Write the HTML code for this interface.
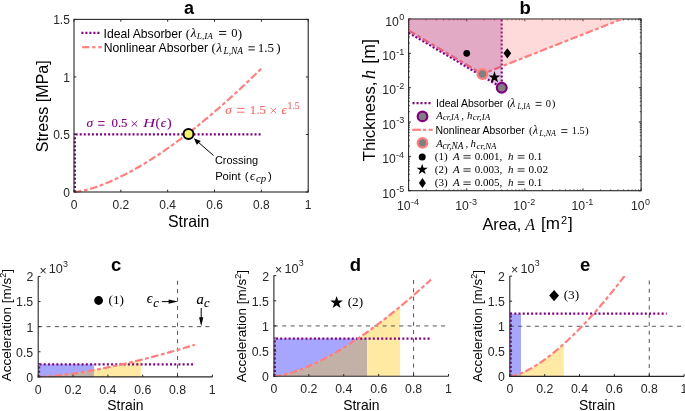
<!DOCTYPE html>
<html><head><meta charset="utf-8"><style>
html,body{margin:0;padding:0;background:#fff;}
svg{display:block;filter:blur(0.45px);}
text{white-space:pre;}
</style></head><body>
<svg width="685" height="411" viewBox="0 0 685 411">
<rect width="685" height="411" fill="#fff"/>
<path d="M74.9 192 L74.9 133.47" fill="none" stroke="#800080" stroke-width="2.2" stroke-dasharray="2 2.066"/>
<path d="M75.63 134.47 L260.6 134.47" fill="none" stroke="#800080" stroke-width="2.2" stroke-dasharray="2 2.066"/>
<path d="M74 192 L74.94 191.96 L75.87 191.88 L76.81 191.77 L77.75 191.65 L78.68 191.51 L79.62 191.36 L80.56 191.19 L81.49 191.01 L82.43 190.82 L83.37 190.62 L84.3 190.41 L85.24 190.18 L86.18 189.95 L87.12 189.71 L88.05 189.46 L88.99 189.21 L89.93 188.94 L90.86 188.67 L91.8 188.38 L92.74 188.09 L93.67 187.8 L94.61 187.49 L95.55 187.18 L96.48 186.87 L97.42 186.54 L98.36 186.21 L99.29 185.87 L100.23 185.53 L101.17 185.18 L102.1 184.83 L103.04 184.46 L103.98 184.1 L104.91 183.72 L105.85 183.34 L106.79 182.96 L107.72 182.57 L108.66 182.17 L109.6 181.77 L110.54 181.37 L111.47 180.95 L112.41 180.54 L113.35 180.11 L114.28 179.69 L115.22 179.26 L116.16 178.82 L117.09 178.38 L118.03 177.93 L118.97 177.48 L119.9 177.02 L120.84 176.56 L121.78 176.1 L122.71 175.63 L123.65 175.15 L124.59 174.67 L125.52 174.19 L126.46 173.7 L127.4 173.21 L128.33 172.71 L129.27 172.21 L130.21 171.71 L131.14 171.2 L132.08 170.68 L133.02 170.17 L133.96 169.64 L134.89 169.12 L135.83 168.59 L136.77 168.05 L137.7 167.52 L138.64 166.97 L139.58 166.43 L140.51 165.88 L141.45 165.32 L142.39 164.77 L143.32 164.2 L144.26 163.64 L145.2 163.07 L146.13 162.5 L147.07 161.92 L148.01 161.34 L148.94 160.76 L149.88 160.17 L150.82 159.58 L151.75 158.98 L152.69 158.38 L153.63 157.78 L154.56 157.18 L155.5 156.57 L156.44 155.95 L157.38 155.34 L158.31 154.72 L159.25 154.1 L160.19 153.47 L161.12 152.84 L162.06 152.21 L163 151.57 L163.93 150.93 L164.87 150.29 L165.81 149.64 L166.74 148.99 L167.68 148.34 L168.62 147.68 L169.55 147.02 L170.49 146.36 L171.43 145.69 L172.36 145.02 L173.3 144.35 L174.24 143.67 L175.17 142.99 L176.11 142.31 L177.05 141.62 L177.98 140.94 L178.92 140.24 L179.86 139.55 L180.8 138.85 L181.73 138.15 L182.67 137.45 L183.61 136.74 L184.54 136.03 L185.48 135.32 L186.42 134.6 L187.35 133.88 L188.29 133.16 L189.23 132.44 L190.16 131.71 L191.1 130.98 L192.04 130.24 L192.97 129.51 L193.91 128.77 L194.85 128.02 L195.78 127.28 L196.72 126.53 L197.66 125.78 L198.59 125.03 L199.53 124.27 L200.47 123.51 L201.4 122.75 L202.34 121.98 L203.28 121.21 L204.22 120.44 L205.15 119.67 L206.09 118.89 L207.03 118.11 L207.96 117.33 L208.9 116.55 L209.84 115.76 L210.77 114.97 L211.71 114.18 L212.65 113.38 L213.58 112.58 L214.52 111.78 L215.46 110.98 L216.39 110.17 L217.33 109.36 L218.27 108.55 L219.2 107.74 L220.14 106.92 L221.08 106.1 L222.01 105.28 L222.95 104.46 L223.89 103.63 L224.82 102.8 L225.76 101.97 L226.7 101.13 L227.64 100.29 L228.57 99.45 L229.51 98.61 L230.45 97.77 L231.38 96.92 L232.32 96.07 L233.26 95.22 L234.19 94.36 L235.13 93.5 L236.07 92.64 L237 91.78 L237.94 90.91 L238.88 90.05 L239.81 89.18 L240.75 88.3 L241.69 87.43 L242.62 86.55 L243.56 85.67 L244.5 84.79 L245.43 83.9 L246.37 83.02 L247.31 82.13 L248.24 81.24 L249.18 80.34 L250.12 79.44 L251.06 78.55 L251.99 77.64 L252.93 76.74 L253.87 75.83 L254.8 74.92 L255.74 74.01 L256.68 73.1 L257.61 72.18 L258.55 71.27 L259.49 70.35 L260.42 69.42 L261.36 68.5" fill="none" stroke="#FF7F7F" stroke-width="2.2" stroke-dasharray="7.6 2.5 3.8 2.5" stroke-linecap="butt"/>
<circle cx="188.5" cy="134.1" r="5.0" fill="#F2F26A" stroke="#000" stroke-width="2.0"/>
<line x1="213.5" y1="155.5" x2="197.5" y2="141.5" stroke="#000" stroke-width="1" />
<path d="M193.8 138.3 L200.8 141 L196.8 144.8Z" fill="#000" fill-opacity="1" stroke="none"/>
<text x="214.89" y="164" font-size="10.96" fill="#000" font-family='"Liberation Sans", sans-serif' font-weight="normal" font-style="normal" >Crossing</text>
<text x="215.13" y="180" font-size="11.23" fill="#000" font-family='"Liberation Sans", sans-serif' font-weight="normal" font-style="normal" >Point</text>
<text x="244.84" y="180" font-size="11.5" fill="#000" font-family='"Liberation Sans", sans-serif' font-weight="normal" font-style="normal" >(</text>
<text x="249.88" y="180" font-size="12.5" fill="#000" font-family='"Liberation Serif", serif' font-weight="normal" font-style="italic" >ϵ</text>
<text x="255.92" y="182.3" font-size="10.87" fill="#000" font-family='"Liberation Serif", serif' font-weight="normal" font-style="italic" >cp</text>
<text x="267.88" y="180" font-size="11.5" fill="#000" font-family='"Liberation Sans", sans-serif' font-weight="normal" font-style="normal" >)</text>
<text x="86.55" y="127.1" font-size="13.33" fill="#800080" font-family='"Liberation Serif", serif' font-weight="normal" font-style="italic"  stroke="#800080" stroke-width="0.15" stroke-linejoin="round">σ</text>
<line x1="98.2" y1="121.6" x2="104.6" y2="121.6" stroke="#800080" stroke-width="1" /><line x1="98.2" y1="125.2" x2="104.6" y2="125.2" stroke="#800080" stroke-width="1" />
<text x="111.46" y="127.1" font-size="12.87" fill="#800080" font-family='"Liberation Serif", serif' font-weight="normal" font-style="normal"  stroke="#800080" stroke-width="0.15" stroke-linejoin="round">0.5</text>
<line x1="131.6" y1="121" x2="137.3" y2="126.6" stroke="#800080" stroke-width="0.95" /><line x1="131.6" y1="126.6" x2="137.3" y2="121" stroke="#800080" stroke-width="0.95" />
<text x="142.99" y="127.1" font-size="12.8" fill="#800080" font-family='"Liberation Serif", serif' font-weight="normal" font-style="italic" textLength="12.2" lengthAdjust="spacingAndGlyphs">H</text>
<text x="155.38" y="127.1" font-size="13" fill="#800080" font-family='"Liberation Serif", serif' font-weight="normal" font-style="normal"  stroke="#800080" stroke-width="0.15" stroke-linejoin="round">(</text>
<text x="160.86" y="127.1" font-size="13" fill="#800080" font-family='"Liberation Serif", serif' font-weight="normal" font-style="italic"  stroke="#800080" stroke-width="0.15" stroke-linejoin="round">ϵ</text>
<text x="167.33" y="127.1" font-size="13" fill="#800080" font-family='"Liberation Serif", serif' font-weight="normal" font-style="normal"  stroke="#800080" stroke-width="0.15" stroke-linejoin="round">)</text>
<text x="225.25" y="113.8" font-size="13.3" fill="#F96B6B" font-family='"Liberation Serif", serif' font-weight="normal" font-style="italic"  stroke="#F96B6B" stroke-width="0.15" stroke-linejoin="round">σ</text>
<line x1="237" y1="108.4" x2="244.4" y2="108.4" stroke="#F96B6B" stroke-width="1" /><line x1="237" y1="112.2" x2="244.4" y2="112.2" stroke="#F96B6B" stroke-width="1" />
<text x="249.82" y="113.8" font-size="12.91" fill="#F96B6B" font-family='"Liberation Serif", serif' font-weight="normal" font-style="normal"  stroke="#F96B6B" stroke-width="0.15" stroke-linejoin="round">1.5</text>
<line x1="270.5" y1="107.9" x2="276.3" y2="113.3" stroke="#F96B6B" stroke-width="0.95" /><line x1="270.5" y1="113.3" x2="276.3" y2="107.9" stroke="#F96B6B" stroke-width="0.95" />
<text x="281.56" y="113.8" font-size="13" fill="#F96B6B" font-family='"Liberation Serif", serif' font-weight="normal" font-style="italic"  stroke="#F96B6B" stroke-width="0.15" stroke-linejoin="round">ϵ</text>
<text x="287.49" y="109.1" font-size="9.79" fill="#F96B6B" font-family='"Liberation Serif", serif' font-weight="normal" font-style="normal"  stroke="#F96B6B" stroke-width="0.15" stroke-linejoin="round">1.5</text>
<line x1="81.4" y1="32.8" x2="100.3" y2="32.8" stroke="#800080" stroke-width="2.2" stroke-dasharray="2 2" stroke-linecap="butt"/>
<line x1="82.15" y1="47.2" x2="89.35" y2="47.2" stroke="#FF7F7F" stroke-width="2.2" /><line x1="92.25" y1="47.2" x2="95.45" y2="47.2" stroke="#FF7F7F" stroke-width="2.2" /><line x1="98.25" y1="47.2" x2="101.65" y2="47.2" stroke="#FF7F7F" stroke-width="2.2" />
<text x="103.52" y="37.5" font-size="12.2" fill="#000" font-family='"Liberation Sans", sans-serif' font-weight="normal" font-style="normal" >Ideal Absorber</text>
<text x="185.68" y="37.5" font-size="13" fill="#000" font-family='"Liberation Serif", serif' font-weight="normal" font-style="normal" >(</text>
<text x="190.67" y="37.3" font-size="13" fill="#000" font-family='"Liberation Serif", serif' font-weight="normal" font-style="italic" >λ</text>
<text x="196.86" y="39.4" font-size="9.23" fill="#000" font-family='"Liberation Serif", serif' font-weight="normal" font-style="italic" >L,IA</text>
<line x1="219.1" y1="31.5" x2="226.2" y2="31.5" stroke="#000" stroke-width="0.9" /><line x1="219.1" y1="34.4" x2="226.2" y2="34.4" stroke="#000" stroke-width="0.9" />
<text x="231.27" y="37" font-size="12.6" fill="#000" font-family='"Liberation Serif", serif' font-weight="normal" font-style="normal" >0</text>
<text x="237.73" y="37.5" font-size="13" fill="#000" font-family='"Liberation Serif", serif' font-weight="normal" font-style="normal" >)</text>
<text x="103.65" y="51.7" font-size="12.2" fill="#000" font-family='"Liberation Sans", sans-serif' font-weight="normal" font-style="normal" >Nonlinear Absorber</text>
<text x="211.58" y="51.7" font-size="13" fill="#000" font-family='"Liberation Serif", serif' font-weight="normal" font-style="normal" >(</text>
<text x="216.47" y="51.5" font-size="13" fill="#000" font-family='"Liberation Serif", serif' font-weight="normal" font-style="italic" >λ</text>
<text x="223.46" y="53.9" font-size="9.38" fill="#000" font-family='"Liberation Serif", serif' font-weight="normal" font-style="italic" >L,NA</text>
<line x1="248.4" y1="46.8" x2="254.8" y2="46.8" stroke="#000" stroke-width="0.9" /><line x1="248.4" y1="49.9" x2="254.8" y2="49.9" stroke="#000" stroke-width="0.9" />
<text x="257.71" y="51.6" font-size="13" fill="#000" font-family='"Liberation Serif", serif' font-weight="normal" font-style="normal" >1.5</text>
<text x="276.13" y="51.7" font-size="13" fill="#000" font-family='"Liberation Serif", serif' font-weight="normal" font-style="normal" >)</text>
<rect x="74" y="19.4" width="234.2" height="172.6" fill="none" stroke="#262626" stroke-width="1.1"/>
<line x1="74" y1="192" x2="74" y2="189.7" stroke="#262626" stroke-width="1" />
<line x1="74" y1="19.4" x2="74" y2="21.7" stroke="#262626" stroke-width="1" />
<text x="70.66" y="208.7" font-size="12" fill="#262626" font-family='"Liberation Sans", sans-serif' font-weight="normal" font-style="normal" >0</text>
<line x1="120.84" y1="192" x2="120.84" y2="189.7" stroke="#262626" stroke-width="1" />
<line x1="120.84" y1="19.4" x2="120.84" y2="21.7" stroke="#262626" stroke-width="1" />
<text x="112.57" y="208.7" font-size="12" fill="#262626" font-family='"Liberation Sans", sans-serif' font-weight="normal" font-style="normal" >0.2</text>
<line x1="167.68" y1="192" x2="167.68" y2="189.7" stroke="#262626" stroke-width="1" />
<line x1="167.68" y1="19.4" x2="167.68" y2="21.7" stroke="#262626" stroke-width="1" />
<text x="159.28" y="208.7" font-size="12" fill="#262626" font-family='"Liberation Sans", sans-serif' font-weight="normal" font-style="normal" >0.4</text>
<line x1="214.52" y1="192" x2="214.52" y2="189.7" stroke="#262626" stroke-width="1" />
<line x1="214.52" y1="19.4" x2="214.52" y2="21.7" stroke="#262626" stroke-width="1" />
<text x="206.21" y="208.7" font-size="12" fill="#262626" font-family='"Liberation Sans", sans-serif' font-weight="normal" font-style="normal" >0.6</text>
<line x1="261.36" y1="192" x2="261.36" y2="189.7" stroke="#262626" stroke-width="1" />
<line x1="261.36" y1="19.4" x2="261.36" y2="21.7" stroke="#262626" stroke-width="1" />
<text x="253.05" y="208.7" font-size="12" fill="#262626" font-family='"Liberation Sans", sans-serif' font-weight="normal" font-style="normal" >0.8</text>
<line x1="308.2" y1="192" x2="308.2" y2="189.7" stroke="#262626" stroke-width="1" />
<line x1="308.2" y1="19.4" x2="308.2" y2="21.7" stroke="#262626" stroke-width="1" />
<text x="304.7" y="208.7" font-size="12" fill="#262626" font-family='"Liberation Sans", sans-serif' font-weight="normal" font-style="normal" >1</text>
<line x1="74" y1="192" x2="76.3" y2="192" stroke="#262626" stroke-width="1" />
<line x1="308.2" y1="192" x2="305.9" y2="192" stroke="#262626" stroke-width="1" />
<text x="63.14" y="196.7" font-size="12" fill="#262626" font-family='"Liberation Sans", sans-serif' font-weight="normal" font-style="normal" >0</text>
<line x1="74" y1="134.47" x2="76.3" y2="134.47" stroke="#262626" stroke-width="1" />
<line x1="308.2" y1="134.47" x2="305.9" y2="134.47" stroke="#262626" stroke-width="1" />
<text x="53.17" y="139.17" font-size="12" fill="#262626" font-family='"Liberation Sans", sans-serif' font-weight="normal" font-style="normal" >0.5</text>
<line x1="74" y1="76.93" x2="76.3" y2="76.93" stroke="#262626" stroke-width="1" />
<line x1="308.2" y1="76.93" x2="305.9" y2="76.93" stroke="#262626" stroke-width="1" />
<text x="63.26" y="81.63" font-size="12" fill="#262626" font-family='"Liberation Sans", sans-serif' font-weight="normal" font-style="normal" >1</text>
<line x1="74" y1="19.4" x2="76.3" y2="19.4" stroke="#262626" stroke-width="1" />
<line x1="308.2" y1="19.4" x2="305.9" y2="19.4" stroke="#262626" stroke-width="1" />
<text x="53.17" y="24.1" font-size="12" fill="#262626" font-family='"Liberation Sans", sans-serif' font-weight="normal" font-style="normal" >1.5</text>
<text x="168.03" y="227" font-size="15.87" fill="#000" font-family='"Liberation Sans", sans-serif' font-weight="normal" font-style="normal" >Strain</text>
<g transform="translate(47.7 0) rotate(-90)">
<text x="-152.18" y="0" font-size="16.07" fill="#000" font-family='"Liberation Sans", sans-serif' font-weight="normal" font-style="normal" >Stress [MPa]</text>
</g>
<text x="184.07" y="13.5" font-size="18" fill="#000" font-family='"Liberation Sans", sans-serif' font-weight="bold" font-style="normal" >a</text>
<defs><clipPath id="cb"><rect x="408.6" y="19" width="232.5" height="171.7"/></clipPath></defs>
<g clip-path="url(#cb)">
</g>
<rect x="408.6" y="19" width="232.5" height="171.7" fill="none" stroke="#262626" stroke-width="1.1"/>
<line x1="408.6" y1="190.7" x2="408.6" y2="188.4" stroke="#262626" stroke-width="1" />
<line x1="408.6" y1="19" x2="408.6" y2="21.3" stroke="#262626" stroke-width="1" />
<line x1="426.1" y1="190.7" x2="426.1" y2="189.4" stroke="#262626" stroke-width="0.8" />
<line x1="426.1" y1="19" x2="426.1" y2="20.3" stroke="#262626" stroke-width="0.8" />
<line x1="436.33" y1="190.7" x2="436.33" y2="189.4" stroke="#262626" stroke-width="0.8" />
<line x1="436.33" y1="19" x2="436.33" y2="20.3" stroke="#262626" stroke-width="0.8" />
<line x1="443.59" y1="190.7" x2="443.59" y2="189.4" stroke="#262626" stroke-width="0.8" />
<line x1="443.59" y1="19" x2="443.59" y2="20.3" stroke="#262626" stroke-width="0.8" />
<line x1="449.23" y1="190.7" x2="449.23" y2="189.4" stroke="#262626" stroke-width="0.8" />
<line x1="449.23" y1="19" x2="449.23" y2="20.3" stroke="#262626" stroke-width="0.8" />
<line x1="453.83" y1="190.7" x2="453.83" y2="189.4" stroke="#262626" stroke-width="0.8" />
<line x1="453.83" y1="19" x2="453.83" y2="20.3" stroke="#262626" stroke-width="0.8" />
<line x1="457.72" y1="190.7" x2="457.72" y2="189.4" stroke="#262626" stroke-width="0.8" />
<line x1="457.72" y1="19" x2="457.72" y2="20.3" stroke="#262626" stroke-width="0.8" />
<line x1="461.09" y1="190.7" x2="461.09" y2="189.4" stroke="#262626" stroke-width="0.8" />
<line x1="461.09" y1="19" x2="461.09" y2="20.3" stroke="#262626" stroke-width="0.8" />
<line x1="464.07" y1="190.7" x2="464.07" y2="189.4" stroke="#262626" stroke-width="0.8" />
<line x1="464.07" y1="19" x2="464.07" y2="20.3" stroke="#262626" stroke-width="0.8" />
<text x="397.02" y="210.3" font-size="12.2" fill="#262626" font-family='"Liberation Sans", sans-serif'>10</text><text x="410.91" y="204.7" font-size="9" fill="#262626" font-family='"Liberation Sans", sans-serif'>-4</text>
<line x1="466.73" y1="190.7" x2="466.73" y2="188.4" stroke="#262626" stroke-width="1" />
<line x1="466.73" y1="19" x2="466.73" y2="21.3" stroke="#262626" stroke-width="1" />
<line x1="484.22" y1="190.7" x2="484.22" y2="189.4" stroke="#262626" stroke-width="0.8" />
<line x1="484.22" y1="19" x2="484.22" y2="20.3" stroke="#262626" stroke-width="0.8" />
<line x1="494.46" y1="190.7" x2="494.46" y2="189.4" stroke="#262626" stroke-width="0.8" />
<line x1="494.46" y1="19" x2="494.46" y2="20.3" stroke="#262626" stroke-width="0.8" />
<line x1="501.72" y1="190.7" x2="501.72" y2="189.4" stroke="#262626" stroke-width="0.8" />
<line x1="501.72" y1="19" x2="501.72" y2="20.3" stroke="#262626" stroke-width="0.8" />
<line x1="507.35" y1="190.7" x2="507.35" y2="189.4" stroke="#262626" stroke-width="0.8" />
<line x1="507.35" y1="19" x2="507.35" y2="20.3" stroke="#262626" stroke-width="0.8" />
<line x1="511.96" y1="190.7" x2="511.96" y2="189.4" stroke="#262626" stroke-width="0.8" />
<line x1="511.96" y1="19" x2="511.96" y2="20.3" stroke="#262626" stroke-width="0.8" />
<line x1="515.85" y1="190.7" x2="515.85" y2="189.4" stroke="#262626" stroke-width="0.8" />
<line x1="515.85" y1="19" x2="515.85" y2="20.3" stroke="#262626" stroke-width="0.8" />
<line x1="519.22" y1="190.7" x2="519.22" y2="189.4" stroke="#262626" stroke-width="0.8" />
<line x1="519.22" y1="19" x2="519.22" y2="20.3" stroke="#262626" stroke-width="0.8" />
<line x1="522.19" y1="190.7" x2="522.19" y2="189.4" stroke="#262626" stroke-width="0.8" />
<line x1="522.19" y1="19" x2="522.19" y2="20.3" stroke="#262626" stroke-width="0.8" />
<text x="455.21" y="210.3" font-size="12.2" fill="#262626" font-family='"Liberation Sans", sans-serif'>10</text><text x="469.1" y="204.7" font-size="9" fill="#262626" font-family='"Liberation Sans", sans-serif'>-3</text>
<line x1="524.85" y1="190.7" x2="524.85" y2="188.4" stroke="#262626" stroke-width="1" />
<line x1="524.85" y1="19" x2="524.85" y2="21.3" stroke="#262626" stroke-width="1" />
<line x1="542.35" y1="190.7" x2="542.35" y2="189.4" stroke="#262626" stroke-width="0.8" />
<line x1="542.35" y1="19" x2="542.35" y2="20.3" stroke="#262626" stroke-width="0.8" />
<line x1="552.58" y1="190.7" x2="552.58" y2="189.4" stroke="#262626" stroke-width="0.8" />
<line x1="552.58" y1="19" x2="552.58" y2="20.3" stroke="#262626" stroke-width="0.8" />
<line x1="559.84" y1="190.7" x2="559.84" y2="189.4" stroke="#262626" stroke-width="0.8" />
<line x1="559.84" y1="19" x2="559.84" y2="20.3" stroke="#262626" stroke-width="0.8" />
<line x1="565.48" y1="190.7" x2="565.48" y2="189.4" stroke="#262626" stroke-width="0.8" />
<line x1="565.48" y1="19" x2="565.48" y2="20.3" stroke="#262626" stroke-width="0.8" />
<line x1="570.08" y1="190.7" x2="570.08" y2="189.4" stroke="#262626" stroke-width="0.8" />
<line x1="570.08" y1="19" x2="570.08" y2="20.3" stroke="#262626" stroke-width="0.8" />
<line x1="573.97" y1="190.7" x2="573.97" y2="189.4" stroke="#262626" stroke-width="0.8" />
<line x1="573.97" y1="19" x2="573.97" y2="20.3" stroke="#262626" stroke-width="0.8" />
<line x1="577.34" y1="190.7" x2="577.34" y2="189.4" stroke="#262626" stroke-width="0.8" />
<line x1="577.34" y1="19" x2="577.34" y2="20.3" stroke="#262626" stroke-width="0.8" />
<line x1="580.32" y1="190.7" x2="580.32" y2="189.4" stroke="#262626" stroke-width="0.8" />
<line x1="580.32" y1="19" x2="580.32" y2="20.3" stroke="#262626" stroke-width="0.8" />
<text x="513.36" y="210.3" font-size="12.2" fill="#262626" font-family='"Liberation Sans", sans-serif'>10</text><text x="527.26" y="204.7" font-size="9" fill="#262626" font-family='"Liberation Sans", sans-serif'>-2</text>
<line x1="582.98" y1="190.7" x2="582.98" y2="188.4" stroke="#262626" stroke-width="1" />
<line x1="582.98" y1="19" x2="582.98" y2="21.3" stroke="#262626" stroke-width="1" />
<line x1="600.47" y1="190.7" x2="600.47" y2="189.4" stroke="#262626" stroke-width="0.8" />
<line x1="600.47" y1="19" x2="600.47" y2="20.3" stroke="#262626" stroke-width="0.8" />
<line x1="610.71" y1="190.7" x2="610.71" y2="189.4" stroke="#262626" stroke-width="0.8" />
<line x1="610.71" y1="19" x2="610.71" y2="20.3" stroke="#262626" stroke-width="0.8" />
<line x1="617.97" y1="190.7" x2="617.97" y2="189.4" stroke="#262626" stroke-width="0.8" />
<line x1="617.97" y1="19" x2="617.97" y2="20.3" stroke="#262626" stroke-width="0.8" />
<line x1="623.6" y1="190.7" x2="623.6" y2="189.4" stroke="#262626" stroke-width="0.8" />
<line x1="623.6" y1="19" x2="623.6" y2="20.3" stroke="#262626" stroke-width="0.8" />
<line x1="628.21" y1="190.7" x2="628.21" y2="189.4" stroke="#262626" stroke-width="0.8" />
<line x1="628.21" y1="19" x2="628.21" y2="20.3" stroke="#262626" stroke-width="0.8" />
<line x1="632.1" y1="190.7" x2="632.1" y2="189.4" stroke="#262626" stroke-width="0.8" />
<line x1="632.1" y1="19" x2="632.1" y2="20.3" stroke="#262626" stroke-width="0.8" />
<line x1="635.47" y1="190.7" x2="635.47" y2="189.4" stroke="#262626" stroke-width="0.8" />
<line x1="635.47" y1="19" x2="635.47" y2="20.3" stroke="#262626" stroke-width="0.8" />
<line x1="638.44" y1="190.7" x2="638.44" y2="189.4" stroke="#262626" stroke-width="0.8" />
<line x1="638.44" y1="19" x2="638.44" y2="20.3" stroke="#262626" stroke-width="0.8" />
<text x="571.48" y="210.3" font-size="12.2" fill="#262626" font-family='"Liberation Sans", sans-serif'>10</text><text x="585.38" y="204.7" font-size="9" fill="#262626" font-family='"Liberation Sans", sans-serif'>-1</text>
<line x1="641.1" y1="190.7" x2="641.1" y2="188.4" stroke="#262626" stroke-width="1" />
<line x1="641.1" y1="19" x2="641.1" y2="21.3" stroke="#262626" stroke-width="1" />
<text x="631.04" y="210.3" font-size="12.2" fill="#262626" font-family='"Liberation Sans", sans-serif'>10</text><text x="644.98" y="204.7" font-size="9" fill="#262626" font-family='"Liberation Sans", sans-serif'>0</text>
<line x1="408.6" y1="190.7" x2="410.9" y2="190.7" stroke="#262626" stroke-width="1" />
<line x1="641.1" y1="190.7" x2="638.8" y2="190.7" stroke="#262626" stroke-width="1" />
<line x1="408.6" y1="180.36" x2="409.9" y2="180.36" stroke="#262626" stroke-width="0.8" />
<line x1="641.1" y1="180.36" x2="639.8" y2="180.36" stroke="#262626" stroke-width="0.8" />
<line x1="408.6" y1="174.32" x2="409.9" y2="174.32" stroke="#262626" stroke-width="0.8" />
<line x1="641.1" y1="174.32" x2="639.8" y2="174.32" stroke="#262626" stroke-width="0.8" />
<line x1="408.6" y1="170.03" x2="409.9" y2="170.03" stroke="#262626" stroke-width="0.8" />
<line x1="641.1" y1="170.03" x2="639.8" y2="170.03" stroke="#262626" stroke-width="0.8" />
<line x1="408.6" y1="166.7" x2="409.9" y2="166.7" stroke="#262626" stroke-width="0.8" />
<line x1="641.1" y1="166.7" x2="639.8" y2="166.7" stroke="#262626" stroke-width="0.8" />
<line x1="408.6" y1="163.98" x2="409.9" y2="163.98" stroke="#262626" stroke-width="0.8" />
<line x1="641.1" y1="163.98" x2="639.8" y2="163.98" stroke="#262626" stroke-width="0.8" />
<line x1="408.6" y1="161.68" x2="409.9" y2="161.68" stroke="#262626" stroke-width="0.8" />
<line x1="641.1" y1="161.68" x2="639.8" y2="161.68" stroke="#262626" stroke-width="0.8" />
<line x1="408.6" y1="159.69" x2="409.9" y2="159.69" stroke="#262626" stroke-width="0.8" />
<line x1="641.1" y1="159.69" x2="639.8" y2="159.69" stroke="#262626" stroke-width="0.8" />
<line x1="408.6" y1="157.93" x2="409.9" y2="157.93" stroke="#262626" stroke-width="0.8" />
<line x1="641.1" y1="157.93" x2="639.8" y2="157.93" stroke="#262626" stroke-width="0.8" />
<text x="382.28" y="197.5" font-size="12.2" fill="#262626" font-family='"Liberation Sans", sans-serif'>10</text><text x="396.18" y="191.9" font-size="9" fill="#262626" font-family='"Liberation Sans", sans-serif'>-5</text>
<line x1="408.6" y1="156.36" x2="410.9" y2="156.36" stroke="#262626" stroke-width="1" />
<line x1="641.1" y1="156.36" x2="638.8" y2="156.36" stroke="#262626" stroke-width="1" />
<line x1="408.6" y1="146.02" x2="409.9" y2="146.02" stroke="#262626" stroke-width="0.8" />
<line x1="641.1" y1="146.02" x2="639.8" y2="146.02" stroke="#262626" stroke-width="0.8" />
<line x1="408.6" y1="139.98" x2="409.9" y2="139.98" stroke="#262626" stroke-width="0.8" />
<line x1="641.1" y1="139.98" x2="639.8" y2="139.98" stroke="#262626" stroke-width="0.8" />
<line x1="408.6" y1="135.69" x2="409.9" y2="135.69" stroke="#262626" stroke-width="0.8" />
<line x1="641.1" y1="135.69" x2="639.8" y2="135.69" stroke="#262626" stroke-width="0.8" />
<line x1="408.6" y1="132.36" x2="409.9" y2="132.36" stroke="#262626" stroke-width="0.8" />
<line x1="641.1" y1="132.36" x2="639.8" y2="132.36" stroke="#262626" stroke-width="0.8" />
<line x1="408.6" y1="129.64" x2="409.9" y2="129.64" stroke="#262626" stroke-width="0.8" />
<line x1="641.1" y1="129.64" x2="639.8" y2="129.64" stroke="#262626" stroke-width="0.8" />
<line x1="408.6" y1="127.34" x2="409.9" y2="127.34" stroke="#262626" stroke-width="0.8" />
<line x1="641.1" y1="127.34" x2="639.8" y2="127.34" stroke="#262626" stroke-width="0.8" />
<line x1="408.6" y1="125.35" x2="409.9" y2="125.35" stroke="#262626" stroke-width="0.8" />
<line x1="641.1" y1="125.35" x2="639.8" y2="125.35" stroke="#262626" stroke-width="0.8" />
<line x1="408.6" y1="123.59" x2="409.9" y2="123.59" stroke="#262626" stroke-width="0.8" />
<line x1="641.1" y1="123.59" x2="639.8" y2="123.59" stroke="#262626" stroke-width="0.8" />
<text x="382.17" y="163.16" font-size="12.2" fill="#262626" font-family='"Liberation Sans", sans-serif'>10</text><text x="396.06" y="157.56" font-size="9" fill="#262626" font-family='"Liberation Sans", sans-serif'>-4</text>
<line x1="408.6" y1="122.02" x2="410.9" y2="122.02" stroke="#262626" stroke-width="1" />
<line x1="641.1" y1="122.02" x2="638.8" y2="122.02" stroke="#262626" stroke-width="1" />
<line x1="408.6" y1="111.68" x2="409.9" y2="111.68" stroke="#262626" stroke-width="0.8" />
<line x1="641.1" y1="111.68" x2="639.8" y2="111.68" stroke="#262626" stroke-width="0.8" />
<line x1="408.6" y1="105.64" x2="409.9" y2="105.64" stroke="#262626" stroke-width="0.8" />
<line x1="641.1" y1="105.64" x2="639.8" y2="105.64" stroke="#262626" stroke-width="0.8" />
<line x1="408.6" y1="101.35" x2="409.9" y2="101.35" stroke="#262626" stroke-width="0.8" />
<line x1="641.1" y1="101.35" x2="639.8" y2="101.35" stroke="#262626" stroke-width="0.8" />
<line x1="408.6" y1="98.02" x2="409.9" y2="98.02" stroke="#262626" stroke-width="0.8" />
<line x1="641.1" y1="98.02" x2="639.8" y2="98.02" stroke="#262626" stroke-width="0.8" />
<line x1="408.6" y1="95.3" x2="409.9" y2="95.3" stroke="#262626" stroke-width="0.8" />
<line x1="641.1" y1="95.3" x2="639.8" y2="95.3" stroke="#262626" stroke-width="0.8" />
<line x1="408.6" y1="93" x2="409.9" y2="93" stroke="#262626" stroke-width="0.8" />
<line x1="641.1" y1="93" x2="639.8" y2="93" stroke="#262626" stroke-width="0.8" />
<line x1="408.6" y1="91.01" x2="409.9" y2="91.01" stroke="#262626" stroke-width="0.8" />
<line x1="641.1" y1="91.01" x2="639.8" y2="91.01" stroke="#262626" stroke-width="0.8" />
<line x1="408.6" y1="89.25" x2="409.9" y2="89.25" stroke="#262626" stroke-width="0.8" />
<line x1="641.1" y1="89.25" x2="639.8" y2="89.25" stroke="#262626" stroke-width="0.8" />
<text x="382.3" y="128.82" font-size="12.2" fill="#262626" font-family='"Liberation Sans", sans-serif'>10</text><text x="396.19" y="123.22" font-size="9" fill="#262626" font-family='"Liberation Sans", sans-serif'>-3</text>
<line x1="408.6" y1="87.68" x2="410.9" y2="87.68" stroke="#262626" stroke-width="1" />
<line x1="641.1" y1="87.68" x2="638.8" y2="87.68" stroke="#262626" stroke-width="1" />
<line x1="408.6" y1="77.34" x2="409.9" y2="77.34" stroke="#262626" stroke-width="0.8" />
<line x1="641.1" y1="77.34" x2="639.8" y2="77.34" stroke="#262626" stroke-width="0.8" />
<line x1="408.6" y1="71.3" x2="409.9" y2="71.3" stroke="#262626" stroke-width="0.8" />
<line x1="641.1" y1="71.3" x2="639.8" y2="71.3" stroke="#262626" stroke-width="0.8" />
<line x1="408.6" y1="67.01" x2="409.9" y2="67.01" stroke="#262626" stroke-width="0.8" />
<line x1="641.1" y1="67.01" x2="639.8" y2="67.01" stroke="#262626" stroke-width="0.8" />
<line x1="408.6" y1="63.68" x2="409.9" y2="63.68" stroke="#262626" stroke-width="0.8" />
<line x1="641.1" y1="63.68" x2="639.8" y2="63.68" stroke="#262626" stroke-width="0.8" />
<line x1="408.6" y1="60.96" x2="409.9" y2="60.96" stroke="#262626" stroke-width="0.8" />
<line x1="641.1" y1="60.96" x2="639.8" y2="60.96" stroke="#262626" stroke-width="0.8" />
<line x1="408.6" y1="58.66" x2="409.9" y2="58.66" stroke="#262626" stroke-width="0.8" />
<line x1="641.1" y1="58.66" x2="639.8" y2="58.66" stroke="#262626" stroke-width="0.8" />
<line x1="408.6" y1="56.67" x2="409.9" y2="56.67" stroke="#262626" stroke-width="0.8" />
<line x1="641.1" y1="56.67" x2="639.8" y2="56.67" stroke="#262626" stroke-width="0.8" />
<line x1="408.6" y1="54.91" x2="409.9" y2="54.91" stroke="#262626" stroke-width="0.8" />
<line x1="641.1" y1="54.91" x2="639.8" y2="54.91" stroke="#262626" stroke-width="0.8" />
<text x="382.36" y="94.48" font-size="12.2" fill="#262626" font-family='"Liberation Sans", sans-serif'>10</text><text x="396.25" y="88.88" font-size="9" fill="#262626" font-family='"Liberation Sans", sans-serif'>-2</text>
<line x1="408.6" y1="53.34" x2="410.9" y2="53.34" stroke="#262626" stroke-width="1" />
<line x1="641.1" y1="53.34" x2="638.8" y2="53.34" stroke="#262626" stroke-width="1" />
<line x1="408.6" y1="43" x2="409.9" y2="43" stroke="#262626" stroke-width="0.8" />
<line x1="641.1" y1="43" x2="639.8" y2="43" stroke="#262626" stroke-width="0.8" />
<line x1="408.6" y1="36.96" x2="409.9" y2="36.96" stroke="#262626" stroke-width="0.8" />
<line x1="641.1" y1="36.96" x2="639.8" y2="36.96" stroke="#262626" stroke-width="0.8" />
<line x1="408.6" y1="32.67" x2="409.9" y2="32.67" stroke="#262626" stroke-width="0.8" />
<line x1="641.1" y1="32.67" x2="639.8" y2="32.67" stroke="#262626" stroke-width="0.8" />
<line x1="408.6" y1="29.34" x2="409.9" y2="29.34" stroke="#262626" stroke-width="0.8" />
<line x1="641.1" y1="29.34" x2="639.8" y2="29.34" stroke="#262626" stroke-width="0.8" />
<line x1="408.6" y1="26.62" x2="409.9" y2="26.62" stroke="#262626" stroke-width="0.8" />
<line x1="641.1" y1="26.62" x2="639.8" y2="26.62" stroke="#262626" stroke-width="0.8" />
<line x1="408.6" y1="24.32" x2="409.9" y2="24.32" stroke="#262626" stroke-width="0.8" />
<line x1="641.1" y1="24.32" x2="639.8" y2="24.32" stroke="#262626" stroke-width="0.8" />
<line x1="408.6" y1="22.33" x2="409.9" y2="22.33" stroke="#262626" stroke-width="0.8" />
<line x1="641.1" y1="22.33" x2="639.8" y2="22.33" stroke="#262626" stroke-width="0.8" />
<line x1="408.6" y1="20.57" x2="409.9" y2="20.57" stroke="#262626" stroke-width="0.8" />
<line x1="641.1" y1="20.57" x2="639.8" y2="20.57" stroke="#262626" stroke-width="0.8" />
<text x="382.34" y="60.14" font-size="12.2" fill="#262626" font-family='"Liberation Sans", sans-serif'>10</text><text x="396.24" y="54.54" font-size="9" fill="#262626" font-family='"Liberation Sans", sans-serif'>-1</text>
<line x1="408.6" y1="19" x2="410.9" y2="19" stroke="#262626" stroke-width="1" />
<line x1="641.1" y1="19" x2="638.8" y2="19" stroke="#262626" stroke-width="1" />
<text x="385.2" y="25.8" font-size="12.2" fill="#262626" font-family='"Liberation Sans", sans-serif'>10</text><text x="399.15" y="20.2" font-size="9" fill="#262626" font-family='"Liberation Sans", sans-serif'>0</text>
<g clip-path="url(#cb)">
<path d="M408.6 32.67 L501.72 87.68" fill="none" stroke="#800080" stroke-width="2.2" stroke-dasharray="2 2" stroke-linecap="butt"/>
<path d="M501.72 19.5 L501.72 87.68" fill="none" stroke="#800080" stroke-width="2.2" stroke-dasharray="2 2" stroke-linecap="butt"/>
<path d="M408.6 30.39 L482.43 74.01 L622.11 19" fill="none" stroke="#FF7F7F" stroke-width="2.2" stroke-dasharray="7.6 2.5 3.8 2.5" stroke-linecap="butt"/>
<path d="M406.6 29.21 L408.6 30.39 L482.43 74.01 L622.11 19 L622.11 17 L406.6 17Z" fill="#FF8080" fill-opacity="0.29" stroke="none"/>
<path d="M406.6 31.48 L408.6 32.67 L501.72 87.68 L501.72 17 L406.6 17Z" fill="#800080" fill-opacity="0.22" stroke="none"/>
</g>
<circle cx="482.43" cy="74.01" r="4.9" fill="#808080" stroke="#FF7F7F" stroke-width="2.2"/>
<circle cx="501.72" cy="87.68" r="4.9" fill="#808080" stroke="#800080" stroke-width="2.2"/>
<circle cx="466.73" cy="53.34" r="3.4" fill="#000"/>
<path d="M494.46 71.04 L495.87 75.4 L500.45 75.4 L496.75 78.09 L498.16 82.44 L494.46 79.75 L490.75 82.44 L492.17 78.09 L488.47 75.4 L493.04 75.4Z" fill="#000" fill-opacity="1" stroke="none"/>
<path d="M507.35 48.14 L511.25 53.34 L507.35 58.54 L503.45 53.34Z" fill="#000" fill-opacity="1" stroke="none"/>
<line x1="412.5" y1="103.2" x2="431.2" y2="103.2" stroke="#800080" stroke-width="2.2" stroke-dasharray="2 2" stroke-linecap="butt"/>
<text x="435.99" y="107" font-size="10.45" fill="#000" font-family='"Liberation Sans", sans-serif' font-weight="normal" font-style="normal" >Ideal Absorber</text>
<text x="507.27" y="107.2" font-size="11" fill="#000" font-family='"Liberation Serif", serif' font-weight="normal" font-style="normal" >(</text>
<text x="510.33" y="107" font-size="11.5" fill="#000" font-family='"Liberation Serif", serif' font-weight="normal" font-style="italic" >λ</text>
<text x="517.44" y="109" font-size="7.31" fill="#000" font-family='"Liberation Serif", serif' font-weight="normal" font-style="italic" >L,IA</text>
<line x1="535.6" y1="102.4" x2="541.5" y2="102.4" stroke="#000" stroke-width="0.8" /><line x1="535.6" y1="105.4" x2="541.5" y2="105.4" stroke="#000" stroke-width="0.8" />
<text x="545.85" y="106.9" font-size="10.5" fill="#000" font-family='"Liberation Serif", serif' font-weight="normal" font-style="normal" >0</text>
<text x="551.8" y="107.2" font-size="11" fill="#000" font-family='"Liberation Serif", serif' font-weight="normal" font-style="normal" >)</text>
<circle cx="422.5" cy="116.4" r="4.8" fill="#808080" stroke="#800080" stroke-width="2.2"/>
<text x="436.23" y="118.6" font-size="10.6" fill="#000" font-family='"Liberation Serif", serif' font-weight="normal" font-style="italic" >A</text>
<text x="442.99" y="120.4" font-size="8.4" fill="#000" font-family='"Liberation Serif", serif' font-weight="normal" font-style="italic" >cr,IA</text>
<text x="461.23" y="118.6" font-size="11" fill="#000" font-family='"Liberation Serif", serif' font-weight="normal" font-style="normal" >,</text>
<text x="466.96" y="118.6" font-size="10.8" fill="#000" font-family='"Liberation Serif", serif' font-weight="normal" font-style="italic" >h</text>
<text x="472.77" y="120.4" font-size="9.15" fill="#000" font-family='"Liberation Serif", serif' font-weight="normal" font-style="italic" >cr,IA</text>
<line x1="412.25" y1="129.8" x2="420.85" y2="129.8" stroke="#FF7F7F" stroke-width="2.2" /><line x1="422.85" y1="129.8" x2="426.05" y2="129.8" stroke="#FF7F7F" stroke-width="2.2" /><line x1="428.75" y1="129.8" x2="432.65" y2="129.8" stroke="#FF7F7F" stroke-width="2.2" />
<text x="435.49" y="134" font-size="10.45" fill="#000" font-family='"Liberation Sans", sans-serif' font-weight="normal" font-style="normal" >Nonlinear Absorber</text>
<text x="529.07" y="134.2" font-size="11" fill="#000" font-family='"Liberation Serif", serif' font-weight="normal" font-style="normal" >(</text>
<text x="533.03" y="134" font-size="11.5" fill="#000" font-family='"Liberation Serif", serif' font-weight="normal" font-style="italic" >λ</text>
<text x="539.34" y="136" font-size="8" fill="#000" font-family='"Liberation Serif", serif' font-weight="normal" font-style="italic" >L,NA</text>
<line x1="561.3" y1="129.6" x2="567.4" y2="129.6" stroke="#000" stroke-width="0.8" /><line x1="561.3" y1="132.5" x2="567.4" y2="132.5" stroke="#000" stroke-width="0.8" />
<text x="571.85" y="133.9" font-size="10.24" fill="#000" font-family='"Liberation Serif", serif' font-weight="normal" font-style="normal" >1.5</text>
<text x="585.1" y="134.2" font-size="11" fill="#000" font-family='"Liberation Serif", serif' font-weight="normal" font-style="normal" >)</text>
<circle cx="422.5" cy="142.9" r="4.8" fill="#808080" stroke="#FF7F7F" stroke-width="2.2"/>
<text x="436.23" y="146.8" font-size="10.6" fill="#000" font-family='"Liberation Serif", serif' font-weight="normal" font-style="italic" >A</text>
<text x="442.56" y="148.6" font-size="9.3" fill="#000" font-family='"Liberation Serif", serif' font-weight="normal" font-style="italic" >cr,NA</text>
<text x="465.53" y="146.8" font-size="11" fill="#000" font-family='"Liberation Serif", serif' font-weight="normal" font-style="normal" >,</text>
<text x="470.46" y="146.8" font-size="10.8" fill="#000" font-family='"Liberation Serif", serif' font-weight="normal" font-style="italic" >h</text>
<text x="476.58" y="148.6" font-size="8.87" fill="#000" font-family='"Liberation Serif", serif' font-weight="normal" font-style="italic" >cr,NA</text>
<circle cx="422.2" cy="157" r="3.5" fill="#000"/>
<path d="M422.2 163.7 L423.52 167.78 L427.81 167.78 L424.34 170.3 L425.67 174.37 L422.2 171.85 L418.73 174.37 L420.06 170.3 L416.59 167.78 L420.88 167.78Z" fill="#000" fill-opacity="1" stroke="none"/>
<path d="M422.4 177.9 L425.9 182.9 L422.4 187.9 L418.9 182.9Z" fill="#000" fill-opacity="1" stroke="none"/>
<text x="434.76" y="160" font-size="11.04" fill="#000" font-family='"Liberation Serif", serif' font-weight="normal" font-style="normal" >(1)</text>
<text x="452.95" y="160" font-size="11" fill="#000" font-family='"Liberation Serif", serif' font-weight="normal" font-style="italic" >A</text>
<line x1="463.4" y1="155.7" x2="470.7" y2="155.7" stroke="#000" stroke-width="0.8" /><line x1="463.4" y1="158.1" x2="470.7" y2="158.1" stroke="#000" stroke-width="0.8" />
<text x="474.73" y="160" font-size="11" fill="#000" font-family='"Liberation Serif", serif' font-weight="normal" font-style="normal" >0.001,</text>
<text x="507.95" y="160" font-size="11" fill="#000" font-family='"Liberation Serif", serif' font-weight="normal" font-style="italic" >h</text>
<line x1="517.7" y1="155.7" x2="524.5" y2="155.7" stroke="#000" stroke-width="0.8" /><line x1="517.7" y1="158.1" x2="524.5" y2="158.1" stroke="#000" stroke-width="0.8" />
<text x="528.42" y="160" font-size="11.2" fill="#000" font-family='"Liberation Serif", serif' font-weight="normal" font-style="normal" >0.1</text>
<text x="434.76" y="173.1" font-size="11.04" fill="#000" font-family='"Liberation Serif", serif' font-weight="normal" font-style="normal" >(2)</text>
<text x="452.95" y="173.1" font-size="11" fill="#000" font-family='"Liberation Serif", serif' font-weight="normal" font-style="italic" >A</text>
<line x1="463.4" y1="168.8" x2="470.7" y2="168.8" stroke="#000" stroke-width="0.8" /><line x1="463.4" y1="171.2" x2="470.7" y2="171.2" stroke="#000" stroke-width="0.8" />
<text x="474.73" y="173.1" font-size="11" fill="#000" font-family='"Liberation Serif", serif' font-weight="normal" font-style="normal" >0.003,</text>
<text x="507.95" y="173.1" font-size="11" fill="#000" font-family='"Liberation Serif", serif' font-weight="normal" font-style="italic" >h</text>
<line x1="517.7" y1="168.8" x2="524.5" y2="168.8" stroke="#000" stroke-width="0.8" /><line x1="517.7" y1="171.2" x2="524.5" y2="171.2" stroke="#000" stroke-width="0.8" />
<text x="528.42" y="173.1" font-size="11.2" fill="#000" font-family='"Liberation Serif", serif' font-weight="normal" font-style="normal" >0.02</text>
<text x="434.76" y="186.3" font-size="11.04" fill="#000" font-family='"Liberation Serif", serif' font-weight="normal" font-style="normal" >(3)</text>
<text x="452.95" y="186.3" font-size="11" fill="#000" font-family='"Liberation Serif", serif' font-weight="normal" font-style="italic" >A</text>
<line x1="463.4" y1="182" x2="470.7" y2="182" stroke="#000" stroke-width="0.8" /><line x1="463.4" y1="184.4" x2="470.7" y2="184.4" stroke="#000" stroke-width="0.8" />
<text x="474.73" y="186.3" font-size="11" fill="#000" font-family='"Liberation Serif", serif' font-weight="normal" font-style="normal" >0.005,</text>
<text x="507.95" y="186.3" font-size="11" fill="#000" font-family='"Liberation Serif", serif' font-weight="normal" font-style="italic" >h</text>
<line x1="517.7" y1="182" x2="524.5" y2="182" stroke="#000" stroke-width="0.8" /><line x1="517.7" y1="184.4" x2="524.5" y2="184.4" stroke="#000" stroke-width="0.8" />
<text x="528.42" y="186.3" font-size="11.2" fill="#000" font-family='"Liberation Serif", serif' font-weight="normal" font-style="normal" >0.1</text>
<text x="482.42" y="229.5" font-size="16.32" fill="#000" font-family='"Liberation Sans", sans-serif' font-weight="normal" font-style="normal" >Area,</text>
<text x="525.23" y="229.5" font-size="16" fill="#000" font-family='"Liberation Serif", serif' font-weight="normal" font-style="italic" >A</text>
<text x="540.94" y="229.3" font-size="17" fill="#000" font-family='"Liberation Sans", sans-serif' font-weight="normal" font-style="normal" >[m</text>
<text x="560.9" y="224.3" font-size="11" fill="#000" font-family='"Liberation Sans", sans-serif' font-weight="normal" font-style="normal" >2</text>
<text x="568.02" y="229.3" font-size="17" fill="#000" font-family='"Liberation Sans", sans-serif' font-weight="normal" font-style="normal" >]</text>
<g transform="translate(375.35 0) rotate(-90)">
<text x="-161.32" y="0" font-size="16.69" fill="#000" font-family='"Liberation Sans", sans-serif' font-weight="normal" font-style="normal" >Thickness,</text>
<text x="-79.13" y="0" font-size="18.7" fill="#000" font-family='"Liberation Serif", serif' font-weight="normal" font-style="italic" >h</text>
<text x="-63.81" y="0" font-size="17.74" fill="#000" font-family='"Liberation Sans", sans-serif' font-weight="normal" font-style="normal" >[m]</text>
</g>
<text x="519.47" y="13.5" font-size="18.5" fill="#000" font-family='"Liberation Sans", sans-serif' font-weight="bold" font-style="normal" >b</text>
<defs><clipPath id="cc"><rect x="38.2" y="276.4" width="175.2" height="100.5"/></clipPath></defs>
<g clip-path="url(#cc)">
<path d="M38.2 376.9 L93.94 376.9 L93.94 364.34 L38.2 364.34Z" fill="#A6A6FF" fill-opacity="1" stroke="none"/>
<path d="M38.2 376.9 L38.2 376.9 L39.06 376.89 L39.91 376.86 L40.77 376.83 L41.62 376.8 L42.48 376.75 L43.33 376.71 L44.19 376.66 L45.04 376.61 L45.9 376.55 L46.76 376.49 L47.61 376.43 L48.47 376.36 L49.32 376.29 L50.18 376.22 L51.03 376.15 L51.89 376.07 L52.74 375.99 L53.6 375.91 L54.46 375.83 L55.31 375.74 L56.17 375.65 L57.02 375.56 L57.88 375.47 L58.73 375.37 L59.59 375.28 L60.44 375.18 L61.3 375.08 L62.16 374.98 L63.01 374.87 L63.87 374.77 L64.72 374.66 L65.58 374.55 L66.43 374.44 L67.29 374.33 L68.14 374.21 L69 374.1 L69.86 373.98 L70.71 373.86 L71.57 373.74 L72.42 373.62 L73.28 373.49 L74.13 373.37 L74.99 373.24 L75.84 373.11 L76.7 372.98 L77.56 372.85 L78.41 372.72 L79.27 372.59 L80.12 372.45 L80.98 372.31 L81.83 372.18 L82.69 372.04 L83.55 371.89 L84.4 371.75 L85.26 371.61 L86.11 371.46 L86.97 371.32 L87.82 371.17 L88.68 371.02 L89.53 370.87 L90.39 370.72 L91.25 370.57 L92.1 370.41 L92.96 370.26 L93.81 370.1 L94.67 369.94 L95.52 369.79 L96.38 369.63 L97.23 369.47 L98.09 369.3 L98.95 369.14 L99.8 368.97 L100.66 368.81 L101.51 368.64 L102.37 368.47 L103.22 368.31 L104.08 368.14 L104.93 367.96 L105.79 367.79 L106.65 367.62 L107.5 367.44 L108.36 367.27 L109.21 367.09 L110.07 366.91 L110.92 366.73 L111.78 366.55 L112.63 366.37 L113.49 366.19 L114.35 366.01 L115.2 365.82 L116.06 365.64 L116.91 365.45 L117.77 365.27 L118.62 365.08 L119.48 364.89 L120.33 364.7 L121.19 364.51 L122.05 364.32 L122.9 364.12 L123.76 363.93 L124.61 363.73 L125.47 363.54 L126.32 363.34 L127.18 363.14 L128.03 362.94 L128.89 362.74 L129.75 362.54 L130.6 362.34 L131.46 362.14 L132.31 361.93 L133.17 361.73 L134.02 361.52 L134.88 361.32 L135.73 361.11 L136.59 360.9 L137.45 360.69 L138.3 360.48 L139.16 360.27 L140.01 360.06 L140.87 359.85 L140.87 376.9Z" fill="#FFE9A3" fill-opacity="1" stroke="none"/>
<path d="M38.2 376.9 L38.2 376.9 L38.66 376.89 L39.13 376.89 L39.59 376.87 L40.06 376.86 L40.52 376.84 L40.99 376.82 L41.45 376.8 L41.92 376.78 L42.38 376.76 L42.85 376.74 L43.31 376.71 L43.77 376.68 L44.24 376.66 L44.7 376.63 L45.17 376.6 L45.63 376.57 L46.1 376.54 L46.56 376.5 L47.03 376.47 L47.49 376.44 L47.96 376.4 L48.42 376.36 L48.88 376.33 L49.35 376.29 L49.81 376.25 L50.28 376.21 L50.74 376.17 L51.21 376.13 L51.67 376.09 L52.14 376.05 L52.6 376 L53.07 375.96 L53.53 375.92 L53.99 375.87 L54.46 375.83 L54.92 375.78 L55.39 375.73 L55.85 375.68 L56.32 375.64 L56.78 375.59 L57.25 375.54 L57.71 375.49 L58.17 375.44 L58.64 375.39 L59.1 375.33 L59.57 375.28 L60.03 375.23 L60.5 375.17 L60.96 375.12 L61.43 375.07 L61.89 375.01 L62.36 374.95 L62.82 374.9 L63.28 374.84 L63.75 374.78 L64.21 374.73 L64.68 374.67 L65.14 374.61 L65.61 374.55 L66.07 374.49 L66.54 374.43 L67 374.37 L67.47 374.3 L67.93 374.24 L68.39 374.18 L68.86 374.12 L69.32 374.05 L69.79 373.99 L70.25 373.93 L70.72 373.86 L71.18 373.8 L71.65 373.73 L72.11 373.66 L72.58 373.6 L73.04 373.53 L73.5 373.46 L73.97 373.39 L74.43 373.32 L74.9 373.26 L75.36 373.19 L75.83 373.12 L76.29 373.05 L76.76 372.98 L77.22 372.9 L77.69 372.83 L78.15 372.76 L78.61 372.69 L79.08 372.62 L79.54 372.54 L80.01 372.47 L80.47 372.39 L80.94 372.32 L81.4 372.25 L81.87 372.17 L82.33 372.09 L82.8 372.02 L83.26 371.94 L83.72 371.87 L84.19 371.79 L84.65 371.71 L85.12 371.63 L85.58 371.55 L86.05 371.47 L86.51 371.4 L86.98 371.32 L87.44 371.24 L87.91 371.16 L88.37 371.08 L88.83 370.99 L89.3 370.91 L89.76 370.83 L90.23 370.75 L90.69 370.67 L91.16 370.58 L91.62 370.5 L92.09 370.42 L92.55 370.33 L93.01 370.25 L93.48 370.16 L93.94 370.08 L93.94 376.9Z" fill="#C3B1A7" fill-opacity="1" stroke="none"/>
<line x1="38.2" y1="326.65" x2="212.4" y2="326.65" stroke="#555" stroke-width="1" stroke-dasharray="4 4.36"/>
<line x1="177.56" y1="276.4" x2="177.56" y2="376.9" stroke="#555" stroke-width="1" stroke-dasharray="4 4.36" stroke-dashoffset="4"/>
<path d="M39.1 376.9 L39.1 363.34" fill="none" stroke="#800080" stroke-width="2.2" stroke-dasharray="2 2.21"/>
<path d="M39.5 364.34 L194.98 364.34" fill="none" stroke="#800080" stroke-width="2.2" stroke-dasharray="2 2.21"/>
<path d="M38.2 376.9 L38.98 376.89 L39.77 376.87 L40.55 376.84 L41.34 376.81 L42.12 376.77 L42.9 376.73 L43.69 376.69 L44.47 376.64 L45.26 376.59 L46.04 376.54 L46.82 376.48 L47.61 376.43 L48.39 376.37 L49.17 376.3 L49.96 376.24 L50.74 376.17 L51.53 376.1 L52.31 376.03 L53.09 375.96 L53.88 375.88 L54.66 375.81 L55.45 375.73 L56.23 375.65 L57.01 375.56 L57.8 375.48 L58.58 375.39 L59.37 375.3 L60.15 375.21 L60.93 375.12 L61.72 375.03 L62.5 374.94 L63.28 374.84 L64.07 374.74 L64.85 374.64 L65.64 374.54 L66.42 374.44 L67.2 374.34 L67.99 374.24 L68.77 374.13 L69.56 374.02 L70.34 373.91 L71.12 373.8 L71.91 373.69 L72.69 373.58 L73.48 373.47 L74.26 373.35 L75.04 373.23 L75.83 373.12 L76.61 373 L77.4 372.88 L78.18 372.76 L78.96 372.63 L79.75 372.51 L80.53 372.39 L81.31 372.26 L82.1 372.13 L82.88 372 L83.67 371.87 L84.45 371.74 L85.23 371.61 L86.02 371.48 L86.8 371.35 L87.59 371.21 L88.37 371.08 L89.15 370.94 L89.94 370.8 L90.72 370.66 L91.51 370.52 L92.29 370.38 L93.07 370.24 L93.86 370.09 L94.64 369.95 L95.42 369.8 L96.21 369.66 L96.99 369.51 L97.78 369.36 L98.56 369.21 L99.34 369.06 L100.13 368.91 L100.91 368.76 L101.7 368.61 L102.48 368.45 L103.26 368.3 L104.05 368.14 L104.83 367.98 L105.62 367.83 L106.4 367.67 L107.18 367.51 L107.97 367.35 L108.75 367.19 L109.53 367.02 L110.32 366.86 L111.1 366.7 L111.89 366.53 L112.67 366.37 L113.45 366.2 L114.24 366.03 L115.02 365.86 L115.81 365.69 L116.59 365.52 L117.37 365.35 L118.16 365.18 L118.94 365.01 L119.73 364.83 L120.51 364.66 L121.29 364.48 L122.08 364.31 L122.86 364.13 L123.65 363.95 L124.43 363.77 L125.21 363.6 L126 363.42 L126.78 363.23 L127.56 363.05 L128.35 362.87 L129.13 362.69 L129.92 362.5 L130.7 362.32 L131.48 362.13 L132.27 361.94 L133.05 361.76 L133.84 361.57 L134.62 361.38 L135.4 361.19 L136.19 361 L136.97 360.81 L137.76 360.62 L138.54 360.42 L139.32 360.23 L140.11 360.04 L140.89 359.84 L141.67 359.65 L142.46 359.45 L143.24 359.25 L144.03 359.05 L144.81 358.86 L145.59 358.66 L146.38 358.46 L147.16 358.26 L147.95 358.05 L148.73 357.85 L149.51 357.65 L150.3 357.45 L151.08 357.24 L151.87 357.04 L152.65 356.83 L153.43 356.62 L154.22 356.42 L155 356.21 L155.78 356 L156.57 355.79 L157.35 355.58 L158.14 355.37 L158.92 355.16 L159.7 354.95 L160.49 354.73 L161.27 354.52 L162.06 354.31 L162.84 354.09 L163.62 353.88 L164.41 353.66 L165.19 353.44 L165.98 353.22 L166.76 353.01 L167.54 352.79 L168.33 352.57 L169.11 352.35 L169.9 352.13 L170.68 351.91 L171.46 351.68 L172.25 351.46 L173.03 351.24 L173.81 351.01 L174.6 350.79 L175.38 350.56 L176.17 350.34 L176.95 350.11 L177.73 349.88 L178.52 349.65 L179.3 349.43 L180.09 349.2 L180.87 348.97 L181.65 348.74 L182.44 348.5 L183.22 348.27 L184.01 348.04 L184.79 347.81 L185.57 347.57 L186.36 347.34 L187.14 347.1 L187.92 346.87 L188.71 346.63 L189.49 346.4 L190.28 346.16 L191.06 345.92 L191.84 345.68 L192.63 345.44 L193.41 345.2 L194.2 344.96 L194.98 344.72" fill="none" stroke="#FF7F7F" stroke-width="2.2" stroke-dasharray="7.6 2.5 3.8 2.5" stroke-linecap="butt"/>
</g>
<line x1="38.2" y1="276.4" x2="38.2" y2="377.4" stroke="#262626" stroke-width="1.1" />
<line x1="37.7" y1="376.9" x2="212.4" y2="376.9" stroke="#262626" stroke-width="1.1" />
<line x1="38.2" y1="376.9" x2="38.2" y2="374.6" stroke="#262626" stroke-width="1" />
<text x="34.78" y="393.7" font-size="12.3" fill="#262626" font-family='"Liberation Sans", sans-serif' font-weight="normal" font-style="normal" >0</text>
<line x1="73.04" y1="376.9" x2="73.04" y2="374.6" stroke="#262626" stroke-width="1" />
<text x="64.56" y="393.7" font-size="12.3" fill="#262626" font-family='"Liberation Sans", sans-serif' font-weight="normal" font-style="normal" >0.2</text>
<line x1="107.88" y1="376.9" x2="107.88" y2="374.6" stroke="#262626" stroke-width="1" />
<text x="99.27" y="393.7" font-size="12.3" fill="#262626" font-family='"Liberation Sans", sans-serif' font-weight="normal" font-style="normal" >0.4</text>
<line x1="142.72" y1="376.9" x2="142.72" y2="374.6" stroke="#262626" stroke-width="1" />
<text x="134.2" y="393.7" font-size="12.3" fill="#262626" font-family='"Liberation Sans", sans-serif' font-weight="normal" font-style="normal" >0.6</text>
<line x1="177.56" y1="376.9" x2="177.56" y2="374.6" stroke="#262626" stroke-width="1" />
<text x="169.04" y="393.7" font-size="12.3" fill="#262626" font-family='"Liberation Sans", sans-serif' font-weight="normal" font-style="normal" >0.8</text>
<line x1="212.4" y1="376.9" x2="212.4" y2="374.6" stroke="#262626" stroke-width="1" />
<text x="208.81" y="393.7" font-size="12.3" fill="#262626" font-family='"Liberation Sans", sans-serif' font-weight="normal" font-style="normal" >1</text>
<line x1="38.2" y1="376.9" x2="40.5" y2="376.9" stroke="#262626" stroke-width="1" />
<text x="26.29" y="381.8" font-size="12.3" fill="#262626" font-family='"Liberation Sans", sans-serif' font-weight="normal" font-style="normal" >0</text>
<line x1="38.2" y1="351.77" x2="40.5" y2="351.77" stroke="#262626" stroke-width="1" />
<text x="16.07" y="356.67" font-size="12.3" fill="#262626" font-family='"Liberation Sans", sans-serif' font-weight="normal" font-style="normal" >0.5</text>
<line x1="38.2" y1="326.65" x2="40.5" y2="326.65" stroke="#262626" stroke-width="1" />
<text x="26.41" y="331.55" font-size="12.3" fill="#262626" font-family='"Liberation Sans", sans-serif' font-weight="normal" font-style="normal" >1</text>
<line x1="38.2" y1="301.52" x2="40.5" y2="301.52" stroke="#262626" stroke-width="1" />
<text x="16.07" y="306.42" font-size="12.3" fill="#262626" font-family='"Liberation Sans", sans-serif' font-weight="normal" font-style="normal" >1.5</text>
<line x1="38.2" y1="276.4" x2="40.5" y2="276.4" stroke="#262626" stroke-width="1" />
<text x="26.43" y="281.3" font-size="12.3" fill="#262626" font-family='"Liberation Sans", sans-serif' font-weight="normal" font-style="normal" >2</text>
<text x="39.39" y="274.7" font-size="12.4" fill="#262626" font-family='"Liberation Sans", sans-serif' font-weight="normal" font-style="normal" >×</text>
<text x="48.78" y="273.3" font-size="12.7" fill="#262626" font-family='"Liberation Sans", sans-serif' font-weight="normal" font-style="normal" >10</text>
<text x="63.11" y="266.7" font-size="8.9" fill="#262626" font-family='"Liberation Sans", sans-serif' font-weight="normal" font-style="normal" >3</text>
<text x="107.28" y="409.8" font-size="13.9" fill="#000" font-family='"Liberation Sans", sans-serif' font-weight="normal" font-style="normal" >Strain</text>
<text x="0" y="0" font-size="13.5" text-anchor="middle" fill="#000" font-family='"Liberation Sans", sans-serif' font-weight="normal" font-style="normal" transform="translate(11.05 325.1) rotate(-90)">Acceleration [m/s<tspan font-size="9" dy="-5">2</tspan><tspan dy="5">]</tspan></text>
<text x="111.12" y="270.6" font-size="18.5" fill="#000" font-family='"Liberation Sans", sans-serif' font-weight="bold" font-style="normal" >c</text>
<circle cx="98.6" cy="300.5" r="4.4" fill="#000"/>
<text x="108.47" y="304" font-size="13.3" fill="#000" font-family='"Liberation Serif", serif' font-weight="normal" font-style="normal" >(1)</text>
<text x="146.73" y="303.4" font-size="14" fill="#000" font-family='"Liberation Serif", serif' font-weight="normal" font-style="italic"  stroke="#000" stroke-width="0.1" stroke-linejoin="round">ϵ</text>
<text x="153.37" y="306.6" font-size="12.5" fill="#000" font-family='"Liberation Serif", serif' font-weight="normal" font-style="italic"  stroke="#000" stroke-width="0.1" stroke-linejoin="round">c</text>
<line x1="161.9" y1="301.6" x2="170" y2="301.6" stroke="#000" stroke-width="1" />
<path d="M178 301.6 L168.6 299.5 L168.6 303.7Z" fill="#000" fill-opacity="1" stroke="none"/>
<text x="196.52" y="303.6" font-size="14.5" fill="#000" font-family='"Liberation Serif", serif' font-weight="normal" font-style="italic"  stroke="#000" stroke-width="0.1" stroke-linejoin="round">a</text>
<text x="204.07" y="306.6" font-size="12.5" fill="#000" font-family='"Liberation Serif", serif' font-weight="normal" font-style="italic"  stroke="#000" stroke-width="0.1" stroke-linejoin="round">c</text>
<line x1="201.2" y1="308" x2="201.2" y2="318" stroke="#000" stroke-width="1" />
<path d="M201.2 326.4 L199.1 317.2 L203.3 317.2Z" fill="#000" fill-opacity="1" stroke="none"/>
<defs><clipPath id="cd"><rect x="273.9" y="275.6" width="175.6" height="100.7"/></clipPath></defs>
<g clip-path="url(#cd)">
<path d="M273.9 376.3 L367.02 376.3 L367.02 338.54 L273.9 338.54Z" fill="#A6A6FF" fill-opacity="1" stroke="none"/>
<path d="M273.9 376.3 L273.9 376.3 L274.95 376.25 L276 376.15 L277.06 376.02 L278.11 375.88 L279.16 375.71 L280.21 375.52 L281.26 375.32 L282.32 375.1 L283.37 374.87 L284.42 374.62 L285.47 374.37 L286.52 374.1 L287.58 373.82 L288.63 373.52 L289.68 373.22 L290.73 372.91 L291.78 372.59 L292.83 372.25 L293.89 371.91 L294.94 371.56 L295.99 371.2 L297.04 370.83 L298.09 370.46 L299.15 370.07 L300.2 369.68 L301.25 369.28 L302.3 368.87 L303.35 368.45 L304.41 368.03 L305.46 367.59 L306.51 367.16 L307.56 366.71 L308.61 366.26 L309.67 365.8 L310.72 365.33 L311.77 364.86 L312.82 364.38 L313.87 363.89 L314.93 363.4 L315.98 362.9 L317.03 362.39 L318.08 361.88 L319.13 361.36 L320.19 360.84 L321.24 360.31 L322.29 359.77 L323.34 359.23 L324.39 358.68 L325.44 358.13 L326.5 357.57 L327.55 357 L328.6 356.43 L329.65 355.86 L330.7 355.28 L331.76 354.69 L332.81 354.1 L333.86 353.5 L334.91 352.9 L335.96 352.29 L337.02 351.68 L338.07 351.06 L339.12 350.44 L340.17 349.81 L341.22 349.17 L342.28 348.54 L343.33 347.89 L344.38 347.25 L345.43 346.59 L346.48 345.93 L347.54 345.27 L348.59 344.61 L349.64 343.93 L350.69 343.26 L351.74 342.58 L352.8 341.89 L353.85 341.2 L354.9 340.5 L355.95 339.8 L357 339.1 L358.06 338.39 L359.11 337.68 L360.16 336.96 L361.21 336.24 L362.26 335.51 L363.31 334.78 L364.37 334.05 L365.42 333.31 L366.47 332.57 L367.52 331.82 L368.57 331.07 L369.63 330.31 L370.68 329.55 L371.73 328.79 L372.78 328.02 L373.83 327.24 L374.89 326.47 L375.94 325.69 L376.99 324.9 L378.04 324.11 L379.09 323.32 L380.15 322.52 L381.2 321.72 L382.25 320.92 L383.3 320.11 L384.35 319.3 L385.41 318.48 L386.46 317.66 L387.51 316.84 L388.56 316.01 L389.61 315.18 L390.67 314.34 L391.72 313.5 L392.77 312.66 L393.82 311.82 L394.87 310.96 L395.92 310.11 L396.98 309.25 L398.03 308.39 L399.08 307.53 L400.13 306.66 L400.13 376.3Z" fill="#FFE9A3" fill-opacity="1" stroke="none"/>
<path d="M273.9 376.3 L273.9 376.3 L274.68 376.27 L275.45 376.21 L276.23 376.13 L277 376.03 L277.78 375.92 L278.56 375.81 L279.33 375.68 L280.11 375.54 L280.88 375.39 L281.66 375.24 L282.44 375.08 L283.21 374.9 L283.99 374.73 L284.76 374.54 L285.54 374.35 L286.32 374.15 L287.09 373.95 L287.87 373.74 L288.64 373.52 L289.42 373.3 L290.2 373.07 L290.97 372.84 L291.75 372.6 L292.52 372.35 L293.3 372.1 L294.08 371.85 L294.85 371.59 L295.63 371.33 L296.4 371.06 L297.18 370.78 L297.96 370.51 L298.73 370.22 L299.51 369.94 L300.28 369.65 L301.06 369.35 L301.84 369.05 L302.61 368.75 L303.39 368.44 L304.16 368.12 L304.94 367.81 L305.72 367.49 L306.49 367.16 L307.27 366.84 L308.04 366.5 L308.82 366.17 L309.6 365.83 L310.37 365.48 L311.15 365.14 L311.92 364.79 L312.7 364.43 L313.48 364.07 L314.25 363.71 L315.03 363.35 L315.8 362.98 L316.58 362.61 L317.36 362.23 L318.13 361.85 L318.91 361.47 L319.68 361.09 L320.46 360.7 L321.24 360.31 L322.01 359.91 L322.79 359.52 L323.56 359.11 L324.34 358.71 L325.12 358.3 L325.89 357.89 L326.67 357.48 L327.44 357.06 L328.22 356.64 L329 356.22 L329.77 355.79 L330.55 355.36 L331.32 354.93 L332.1 354.5 L332.88 354.06 L333.65 353.62 L334.43 353.18 L335.2 352.73 L335.98 352.28 L336.76 351.83 L337.53 351.38 L338.31 350.92 L339.08 350.46 L339.86 350 L340.64 349.53 L341.41 349.06 L342.19 348.59 L342.96 348.12 L343.74 347.64 L344.52 347.16 L345.29 346.68 L346.07 346.2 L346.84 345.71 L347.62 345.22 L348.4 344.73 L349.17 344.23 L349.95 343.74 L350.72 343.24 L351.5 342.73 L352.28 342.23 L353.05 341.72 L353.83 341.21 L354.6 340.7 L355.38 340.18 L356.16 339.67 L356.93 339.15 L357.71 338.63 L358.48 338.54 L359.26 338.54 L360.04 338.54 L360.81 338.54 L361.59 338.54 L362.36 338.54 L363.14 338.54 L363.92 338.54 L364.69 338.54 L365.47 338.54 L366.24 338.54 L367.02 338.54 L367.02 376.3Z" fill="#C3B1A7" fill-opacity="1" stroke="none"/>
<line x1="273.9" y1="325.95" x2="448.5" y2="325.95" stroke="#555" stroke-width="1" stroke-dasharray="4 4.36"/>
<line x1="413.58" y1="275.6" x2="413.58" y2="376.3" stroke="#555" stroke-width="1" stroke-dasharray="4 4.36" stroke-dashoffset="4"/>
<path d="M274.8 376.3 L274.8 337.54" fill="none" stroke="#800080" stroke-width="2.2" stroke-dasharray="2 2.21"/>
<path d="M276 338.54 L431.04 338.54" fill="none" stroke="#800080" stroke-width="2.2" stroke-dasharray="2 2.21"/>
<path d="M273.9 376.3 L274.69 376.27 L275.47 376.2 L276.26 376.12 L277.04 376.03 L277.83 375.92 L278.61 375.8 L279.4 375.67 L280.19 375.53 L280.97 375.38 L281.76 375.22 L282.54 375.05 L283.33 374.88 L284.11 374.7 L284.9 374.51 L285.69 374.31 L286.47 374.11 L287.26 373.9 L288.04 373.69 L288.83 373.47 L289.61 373.24 L290.4 373.01 L291.19 372.77 L291.97 372.53 L292.76 372.28 L293.54 372.03 L294.33 371.77 L295.11 371.5 L295.9 371.23 L296.69 370.96 L297.47 370.68 L298.26 370.4 L299.04 370.11 L299.83 369.82 L300.61 369.52 L301.4 369.22 L302.19 368.91 L302.97 368.6 L303.76 368.29 L304.54 367.97 L305.33 367.65 L306.11 367.32 L306.9 366.99 L307.69 366.66 L308.47 366.32 L309.26 365.98 L310.04 365.63 L310.83 365.28 L311.61 364.93 L312.4 364.57 L313.19 364.21 L313.97 363.84 L314.76 363.48 L315.54 363.1 L316.33 362.73 L317.11 362.35 L317.9 361.97 L318.68 361.58 L319.47 361.19 L320.26 360.8 L321.04 360.41 L321.83 360.01 L322.61 359.6 L323.4 359.2 L324.18 358.79 L324.97 358.38 L325.76 357.96 L326.54 357.55 L327.33 357.12 L328.11 356.7 L328.9 356.27 L329.68 355.84 L330.47 355.41 L331.26 354.97 L332.04 354.53 L332.83 354.09 L333.61 353.64 L334.4 353.19 L335.18 352.74 L335.97 352.29 L336.76 351.83 L337.54 351.37 L338.33 350.91 L339.11 350.44 L339.9 349.97 L340.68 349.5 L341.47 349.03 L342.26 348.55 L343.04 348.07 L343.83 347.59 L344.61 347.1 L345.4 346.61 L346.18 346.12 L346.97 345.63 L347.76 345.13 L348.54 344.63 L349.33 344.13 L350.11 343.63 L350.9 343.12 L351.68 342.61 L352.47 342.1 L353.26 341.59 L354.04 341.07 L354.83 340.55 L355.61 340.03 L356.4 339.51 L357.18 338.98 L357.97 338.45 L358.76 337.92 L359.54 337.38 L360.33 336.85 L361.11 336.31 L361.9 335.77 L362.68 335.22 L363.47 334.67 L364.26 334.13 L365.04 333.57 L365.83 333.02 L366.61 332.46 L367.4 331.91 L368.18 331.35 L368.97 330.78 L369.76 330.22 L370.54 329.65 L371.33 329.08 L372.11 328.51 L372.9 327.93 L373.68 327.36 L374.47 326.78 L375.26 326.19 L376.04 325.61 L376.83 325.02 L377.61 324.44 L378.4 323.85 L379.18 323.25 L379.97 322.66 L380.76 322.06 L381.54 321.46 L382.33 320.86 L383.11 320.26 L383.9 319.65 L384.68 319.04 L385.47 318.43 L386.26 317.82 L387.04 317.21 L387.83 316.59 L388.61 315.97 L389.4 315.35 L390.18 314.73 L390.97 314.1 L391.75 313.47 L392.54 312.84 L393.33 312.21 L394.11 311.58 L394.9 310.94 L395.68 310.31 L396.47 309.67 L397.25 309.03 L398.04 308.38 L398.83 307.74 L399.61 307.09 L400.4 306.44 L401.18 305.79 L401.97 305.13 L402.75 304.48 L403.54 303.82 L404.33 303.16 L405.11 302.5 L405.9 301.83 L406.68 301.17 L407.47 300.5 L408.25 299.83 L409.04 299.16 L409.83 298.48 L410.61 297.81 L411.4 297.13 L412.18 296.45 L412.97 295.77 L413.75 295.09 L414.54 294.4 L415.33 293.71 L416.11 293.02 L416.9 292.33 L417.68 291.64 L418.47 290.95 L419.25 290.25 L420.04 289.55 L420.83 288.85 L421.61 288.15 L422.4 287.44 L423.18 286.74 L423.97 286.03 L424.75 285.32 L425.54 284.61 L426.33 283.89 L427.11 283.18 L427.9 282.46 L428.68 281.74 L429.47 281.02 L430.25 280.3 L431.04 279.57" fill="none" stroke="#FF7F7F" stroke-width="2.2" stroke-dasharray="7.6 2.5 3.8 2.5" stroke-linecap="butt"/>
</g>
<line x1="273.9" y1="275.6" x2="273.9" y2="376.8" stroke="#262626" stroke-width="1.1" />
<line x1="273.4" y1="376.3" x2="448.5" y2="376.3" stroke="#262626" stroke-width="1.1" />
<line x1="273.9" y1="376.3" x2="273.9" y2="374" stroke="#262626" stroke-width="1" />
<text x="270.48" y="393.1" font-size="12.3" fill="#262626" font-family='"Liberation Sans", sans-serif' font-weight="normal" font-style="normal" >0</text>
<line x1="308.82" y1="376.3" x2="308.82" y2="374" stroke="#262626" stroke-width="1" />
<text x="300.34" y="393.1" font-size="12.3" fill="#262626" font-family='"Liberation Sans", sans-serif' font-weight="normal" font-style="normal" >0.2</text>
<line x1="343.74" y1="376.3" x2="343.74" y2="374" stroke="#262626" stroke-width="1" />
<text x="335.13" y="393.1" font-size="12.3" fill="#262626" font-family='"Liberation Sans", sans-serif' font-weight="normal" font-style="normal" >0.4</text>
<line x1="378.66" y1="376.3" x2="378.66" y2="374" stroke="#262626" stroke-width="1" />
<text x="370.14" y="393.1" font-size="12.3" fill="#262626" font-family='"Liberation Sans", sans-serif' font-weight="normal" font-style="normal" >0.6</text>
<line x1="413.58" y1="376.3" x2="413.58" y2="374" stroke="#262626" stroke-width="1" />
<text x="405.06" y="393.1" font-size="12.3" fill="#262626" font-family='"Liberation Sans", sans-serif' font-weight="normal" font-style="normal" >0.8</text>
<line x1="448.5" y1="376.3" x2="448.5" y2="374" stroke="#262626" stroke-width="1" />
<text x="444.91" y="393.1" font-size="12.3" fill="#262626" font-family='"Liberation Sans", sans-serif' font-weight="normal" font-style="normal" >1</text>
<line x1="273.9" y1="376.3" x2="276.2" y2="376.3" stroke="#262626" stroke-width="1" />
<text x="261.99" y="381.2" font-size="12.3" fill="#262626" font-family='"Liberation Sans", sans-serif' font-weight="normal" font-style="normal" >0</text>
<line x1="273.9" y1="351.12" x2="276.2" y2="351.12" stroke="#262626" stroke-width="1" />
<text x="251.77" y="356.02" font-size="12.3" fill="#262626" font-family='"Liberation Sans", sans-serif' font-weight="normal" font-style="normal" >0.5</text>
<line x1="273.9" y1="325.95" x2="276.2" y2="325.95" stroke="#262626" stroke-width="1" />
<text x="262.11" y="330.85" font-size="12.3" fill="#262626" font-family='"Liberation Sans", sans-serif' font-weight="normal" font-style="normal" >1</text>
<line x1="273.9" y1="300.78" x2="276.2" y2="300.78" stroke="#262626" stroke-width="1" />
<text x="251.77" y="305.68" font-size="12.3" fill="#262626" font-family='"Liberation Sans", sans-serif' font-weight="normal" font-style="normal" >1.5</text>
<line x1="273.9" y1="275.6" x2="276.2" y2="275.6" stroke="#262626" stroke-width="1" />
<text x="262.13" y="280.5" font-size="12.3" fill="#262626" font-family='"Liberation Sans", sans-serif' font-weight="normal" font-style="normal" >2</text>
<text x="275.09" y="273.9" font-size="12.4" fill="#262626" font-family='"Liberation Sans", sans-serif' font-weight="normal" font-style="normal" >×</text>
<text x="284.48" y="272.5" font-size="12.7" fill="#262626" font-family='"Liberation Sans", sans-serif' font-weight="normal" font-style="normal" >10</text>
<text x="298.81" y="265.9" font-size="8.9" fill="#262626" font-family='"Liberation Sans", sans-serif' font-weight="normal" font-style="normal" >3</text>
<text x="343.18" y="409.8" font-size="13.9" fill="#000" font-family='"Liberation Sans", sans-serif' font-weight="normal" font-style="normal" >Strain</text>
<text x="0" y="0" font-size="13.5" text-anchor="middle" fill="#000" font-family='"Liberation Sans", sans-serif' font-weight="normal" font-style="normal" transform="translate(245.85 326.1) rotate(-90)">Acceleration [m/s<tspan font-size="9" dy="-5">2</tspan><tspan dy="5">]</tspan></text>
<text x="349.68" y="270.6" font-size="18.5" fill="#000" font-family='"Liberation Sans", sans-serif' font-weight="bold" font-style="normal" >d</text>
<path d="M336.6 295.9 L338.1 300.53 L342.97 300.53 L339.03 303.39 L340.54 308.02 L336.6 305.16 L332.66 308.02 L334.17 303.39 L330.23 300.53 L335.1 300.53Z" fill="#000" fill-opacity="1" stroke="none"/>
<text x="347.67" y="305.9" font-size="13.3" fill="#000" font-family='"Liberation Serif", serif' font-weight="normal" font-style="normal" >(2)</text>
<defs><clipPath id="ce"><rect x="509.8" y="276.1" width="175.3" height="100.3"/></clipPath></defs>
<g clip-path="url(#ce)">
<path d="M509.8 376.4 L520.96 376.4 L520.96 313.71 L509.8 313.71Z" fill="#A6A6FF" fill-opacity="1" stroke="none"/>
<path d="M509.8 376.4 L509.8 376.4 L510.25 376.38 L510.7 376.33 L511.15 376.27 L511.6 376.2 L512.05 376.12 L512.5 376.04 L512.95 375.94 L513.4 375.84 L513.85 375.73 L514.3 375.62 L514.75 375.5 L515.2 375.38 L515.65 375.24 L516.1 375.11 L516.55 374.97 L517 374.82 L517.44 374.67 L517.89 374.52 L518.34 374.36 L518.79 374.2 L519.24 374.03 L519.69 373.86 L520.14 373.68 L520.59 373.5 L521.04 373.32 L521.49 373.13 L521.94 372.94 L522.39 372.75 L522.84 372.55 L523.29 372.35 L523.74 372.15 L524.19 371.94 L524.64 371.73 L525.09 371.51 L525.54 371.3 L525.99 371.08 L526.44 370.85 L526.89 370.63 L527.34 370.4 L527.79 370.17 L528.24 369.93 L528.69 369.69 L529.14 369.45 L529.59 369.21 L530.04 368.96 L530.49 368.71 L530.94 368.46 L531.39 368.2 L531.83 367.95 L532.28 367.69 L532.73 367.42 L533.18 367.16 L533.63 366.89 L534.08 366.62 L534.53 366.35 L534.98 366.07 L535.43 365.79 L535.88 365.51 L536.33 365.23 L536.78 364.95 L537.23 364.66 L537.68 364.37 L538.13 364.08 L538.58 363.78 L539.03 363.48 L539.48 363.19 L539.93 362.88 L540.38 362.58 L540.83 362.27 L541.28 361.97 L541.73 361.66 L542.18 361.34 L542.63 361.03 L543.08 360.71 L543.53 360.39 L543.98 360.07 L544.43 359.75 L544.88 359.42 L545.33 359.1 L545.78 358.77 L546.23 358.43 L546.67 358.1 L547.12 357.76 L547.57 357.43 L548.02 357.09 L548.47 356.74 L548.92 356.4 L549.37 356.06 L549.82 355.71 L550.27 355.36 L550.72 355.01 L551.17 354.65 L551.62 354.3 L552.07 353.94 L552.52 353.58 L552.97 353.22 L553.42 352.86 L553.87 352.49 L554.32 352.12 L554.77 351.75 L555.22 351.38 L555.67 351.01 L556.12 350.64 L556.57 350.26 L557.02 349.88 L557.47 349.5 L557.92 349.12 L558.37 348.74 L558.82 348.35 L559.27 347.97 L559.72 347.58 L560.17 347.19 L560.62 346.8 L561.06 346.4 L561.51 346.01 L561.96 345.61 L562.41 345.21 L562.86 344.81 L563.31 344.41 L563.76 344 L563.76 376.4Z" fill="#FFE9A3" fill-opacity="1" stroke="none"/>
<path d="M509.8 376.4 L509.8 376.4 L509.89 376.4 L509.99 376.39 L510.08 376.39 L510.17 376.38 L510.26 376.37 L510.36 376.37 L510.45 376.36 L510.54 376.35 L510.64 376.34 L510.73 376.33 L510.82 376.32 L510.92 376.3 L511.01 376.29 L511.1 376.28 L511.19 376.27 L511.29 376.25 L511.38 376.24 L511.47 376.22 L511.57 376.21 L511.66 376.19 L511.75 376.18 L511.85 376.16 L511.94 376.14 L512.03 376.13 L512.12 376.11 L512.22 376.09 L512.31 376.08 L512.4 376.06 L512.5 376.04 L512.59 376.02 L512.68 376 L512.77 375.98 L512.87 375.96 L512.96 375.94 L513.05 375.92 L513.15 375.9 L513.24 375.88 L513.33 375.86 L513.43 375.84 L513.52 375.81 L513.61 375.79 L513.7 375.77 L513.8 375.75 L513.89 375.72 L513.98 375.7 L514.08 375.68 L514.17 375.65 L514.26 375.63 L514.36 375.61 L514.45 375.58 L514.54 375.56 L514.63 375.53 L514.73 375.51 L514.82 375.48 L514.91 375.46 L515.01 375.43 L515.1 375.4 L515.19 375.38 L515.28 375.35 L515.38 375.32 L515.47 375.3 L515.56 375.27 L515.66 375.24 L515.75 375.21 L515.84 375.19 L515.94 375.16 L516.03 375.13 L516.12 375.1 L516.21 375.07 L516.31 375.04 L516.4 375.01 L516.49 374.98 L516.59 374.96 L516.68 374.93 L516.77 374.9 L516.86 374.87 L516.96 374.83 L517.05 374.8 L517.14 374.77 L517.24 374.74 L517.33 374.71 L517.42 374.68 L517.52 374.65 L517.61 374.62 L517.7 374.58 L517.79 374.55 L517.89 374.52 L517.98 374.49 L518.07 374.46 L518.17 374.42 L518.26 374.39 L518.35 374.36 L518.45 374.32 L518.54 374.29 L518.63 374.26 L518.72 374.22 L518.82 374.19 L518.91 374.15 L519 374.12 L519.1 374.08 L519.19 374.05 L519.28 374.01 L519.37 373.98 L519.47 373.94 L519.56 373.91 L519.65 373.87 L519.75 373.84 L519.84 373.8 L519.93 373.76 L520.03 373.73 L520.12 373.69 L520.21 373.65 L520.3 373.62 L520.4 373.58 L520.49 373.54 L520.58 373.51 L520.68 373.47 L520.77 373.43 L520.86 373.39 L520.96 373.36 L520.96 376.4Z" fill="#C3B1A7" fill-opacity="1" stroke="none"/>
<line x1="509.8" y1="326.25" x2="684.1" y2="326.25" stroke="#555" stroke-width="1" stroke-dasharray="4 4.36"/>
<line x1="649.24" y1="276.1" x2="649.24" y2="376.4" stroke="#555" stroke-width="1" stroke-dasharray="4 4.36" stroke-dashoffset="4"/>
<path d="M510.7 376.4 L510.7 312.71" fill="none" stroke="#800080" stroke-width="2.2" stroke-dasharray="2 2.21"/>
<path d="M510.1 313.71 L666.67 313.71" fill="none" stroke="#800080" stroke-width="2.2" stroke-dasharray="2 2.21"/>
<path d="M509.8 376.4 L510.58 376.34 L511.37 376.24 L512.15 376.11 L512.94 375.95 L513.72 375.77 L514.51 375.57 L515.29 375.35 L516.07 375.12 L516.86 374.87 L517.64 374.6 L518.43 374.33 L519.21 374.04 L520 373.74 L520.78 373.43 L521.57 373.1 L522.35 372.77 L523.13 372.42 L523.92 372.06 L524.7 371.7 L525.49 371.32 L526.27 370.94 L527.06 370.54 L527.84 370.14 L528.62 369.73 L529.41 369.3 L530.19 368.87 L530.98 368.44 L531.76 367.99 L532.55 367.53 L533.33 367.07 L534.11 366.6 L534.9 366.12 L535.68 365.64 L536.47 365.15 L537.25 364.64 L538.04 364.14 L538.82 363.62 L539.61 363.1 L540.39 362.57 L541.17 362.04 L541.96 361.5 L542.74 360.95 L543.53 360.39 L544.31 359.83 L545.1 359.26 L545.88 358.69 L546.66 358.11 L547.45 357.52 L548.23 356.93 L549.02 356.33 L549.8 355.72 L550.59 355.11 L551.37 354.5 L552.15 353.87 L552.94 353.24 L553.72 352.61 L554.51 351.97 L555.29 351.32 L556.08 350.67 L556.86 350.02 L557.65 349.35 L558.43 348.69 L559.21 348.01 L560 347.33 L560.78 346.65 L561.57 345.96 L562.35 345.27 L563.14 344.57 L563.92 343.86 L564.7 343.15 L565.49 342.44 L566.27 341.72 L567.06 340.99 L567.84 340.26 L568.63 339.53 L569.41 338.79 L570.19 338.04 L570.98 337.29 L571.76 336.54 L572.55 335.78 L573.33 335.01 L574.12 334.25 L574.9 333.47 L575.69 332.69 L576.47 331.91 L577.25 331.12 L578.04 330.33 L578.82 329.54 L579.61 328.73 L580.39 327.93 L581.18 327.12 L581.96 326.3 L582.74 325.49 L583.53 324.66 L584.31 323.83 L585.1 323 L585.88 322.17 L586.67 321.32 L587.45 320.48 L588.24 319.63 L589.02 318.78 L589.8 317.92 L590.59 317.06 L591.37 316.19 L592.16 315.32 L592.94 314.44 L593.73 313.57 L594.51 312.68 L595.29 311.8 L596.08 310.9 L596.86 310.01 L597.65 309.11 L598.43 308.21 L599.22 307.3 L600 306.39 L600.78 305.47 L601.57 304.55 L602.35 303.63 L603.14 302.7 L603.92 301.77 L604.71 300.84 L605.49 299.9 L606.28 298.96 L607.06 298.01 L607.84 297.06 L608.63 296.11 L609.41 295.15 L610.2 294.19 L610.98 293.22 L611.77 292.25 L612.55 291.28 L613.33 290.3 L614.12 289.32 L614.9 288.34 L615.69 287.35 L616.47 286.36 L617.26 285.37 L618.04 284.37 L618.82 283.37 L619.61 282.36 L620.39 281.35 L621.18 280.34 L621.96 279.32 L622.75 278.3 L623.53 277.28 L624.32 276.25 L625.1 275.22 L625.88 274.19 L626.67 273.15 L627.45 272.11 L628.24 271.06 L629.02 270.01 L629.81 268.96 L630.59 267.91 L631.37 266.85 L632.16 265.79 L632.94 264.72 L633.73 263.65 L634.51 262.58 L635.3 261.51 L636.08 260.43 L636.86 259.34 L637.65 258.26 L638.43 257.17 L639.22 256.08 L640 254.98 L640.79 253.88 L641.57 252.78 L642.36 251.68 L643.14 250.57 L643.92 249.46 L644.71 248.34 L645.49 247.22 L646.28 246.1 L647.06 244.97 L647.85 243.85 L648.63 242.72 L649.41 241.58 L650.2 240.44 L650.98 239.3 L651.77 238.16 L652.55 237.01 L653.34 235.86 L654.12 234.71 L654.9 233.55 L655.69 232.39 L656.47 231.23 L657.26 230.06 L658.04 228.89 L658.83 227.72 L659.61 226.55 L660.4 225.37 L661.18 224.19 L661.96 223 L662.75 221.81 L663.53 220.62 L664.32 219.43 L665.1 218.23 L665.89 217.03 L666.67 215.83" fill="none" stroke="#FF7F7F" stroke-width="2.2" stroke-dasharray="7.6 2.5 3.8 2.5" stroke-linecap="butt"/>
</g>
<line x1="509.8" y1="276.1" x2="509.8" y2="376.9" stroke="#262626" stroke-width="1.1" />
<line x1="509.3" y1="376.4" x2="684.1" y2="376.4" stroke="#262626" stroke-width="1.1" />
<line x1="509.8" y1="376.4" x2="509.8" y2="374.1" stroke="#262626" stroke-width="1" />
<text x="506.38" y="393.2" font-size="12.3" fill="#262626" font-family='"Liberation Sans", sans-serif' font-weight="normal" font-style="normal" >0</text>
<line x1="544.66" y1="376.4" x2="544.66" y2="374.1" stroke="#262626" stroke-width="1" />
<text x="536.18" y="393.2" font-size="12.3" fill="#262626" font-family='"Liberation Sans", sans-serif' font-weight="normal" font-style="normal" >0.2</text>
<line x1="579.52" y1="376.4" x2="579.52" y2="374.1" stroke="#262626" stroke-width="1" />
<text x="570.91" y="393.2" font-size="12.3" fill="#262626" font-family='"Liberation Sans", sans-serif' font-weight="normal" font-style="normal" >0.4</text>
<line x1="614.38" y1="376.4" x2="614.38" y2="374.1" stroke="#262626" stroke-width="1" />
<text x="605.86" y="393.2" font-size="12.3" fill="#262626" font-family='"Liberation Sans", sans-serif' font-weight="normal" font-style="normal" >0.6</text>
<line x1="649.24" y1="376.4" x2="649.24" y2="374.1" stroke="#262626" stroke-width="1" />
<text x="640.72" y="393.2" font-size="12.3" fill="#262626" font-family='"Liberation Sans", sans-serif' font-weight="normal" font-style="normal" >0.8</text>
<line x1="684.1" y1="376.4" x2="684.1" y2="374.1" stroke="#262626" stroke-width="1" />
<text x="680.51" y="393.2" font-size="12.3" fill="#262626" font-family='"Liberation Sans", sans-serif' font-weight="normal" font-style="normal" >1</text>
<line x1="509.8" y1="376.4" x2="512.1" y2="376.4" stroke="#262626" stroke-width="1" />
<text x="497.89" y="381.3" font-size="12.3" fill="#262626" font-family='"Liberation Sans", sans-serif' font-weight="normal" font-style="normal" >0</text>
<line x1="509.8" y1="351.32" x2="512.1" y2="351.32" stroke="#262626" stroke-width="1" />
<text x="487.67" y="356.22" font-size="12.3" fill="#262626" font-family='"Liberation Sans", sans-serif' font-weight="normal" font-style="normal" >0.5</text>
<line x1="509.8" y1="326.25" x2="512.1" y2="326.25" stroke="#262626" stroke-width="1" />
<text x="498.01" y="331.15" font-size="12.3" fill="#262626" font-family='"Liberation Sans", sans-serif' font-weight="normal" font-style="normal" >1</text>
<line x1="509.8" y1="301.18" x2="512.1" y2="301.18" stroke="#262626" stroke-width="1" />
<text x="487.67" y="306.07" font-size="12.3" fill="#262626" font-family='"Liberation Sans", sans-serif' font-weight="normal" font-style="normal" >1.5</text>
<line x1="509.8" y1="276.1" x2="512.1" y2="276.1" stroke="#262626" stroke-width="1" />
<text x="498.03" y="281" font-size="12.3" fill="#262626" font-family='"Liberation Sans", sans-serif' font-weight="normal" font-style="normal" >2</text>
<text x="510.99" y="274.4" font-size="12.4" fill="#262626" font-family='"Liberation Sans", sans-serif' font-weight="normal" font-style="normal" >×</text>
<text x="520.38" y="273" font-size="12.7" fill="#262626" font-family='"Liberation Sans", sans-serif' font-weight="normal" font-style="normal" >10</text>
<text x="534.71" y="266.4" font-size="8.9" fill="#262626" font-family='"Liberation Sans", sans-serif' font-weight="normal" font-style="normal" >3</text>
<text x="578.93" y="409.8" font-size="13.9" fill="#000" font-family='"Liberation Sans", sans-serif' font-weight="normal" font-style="normal" >Strain</text>
<text x="0" y="0" font-size="13.5" text-anchor="middle" fill="#000" font-family='"Liberation Sans", sans-serif' font-weight="normal" font-style="normal" transform="translate(481.75 326.15) rotate(-90)">Acceleration [m/s<tspan font-size="9" dy="-5">2</tspan><tspan dy="5">]</tspan></text>
<text x="580.01" y="270.6" font-size="18.5" fill="#000" font-family='"Liberation Sans", sans-serif' font-weight="bold" font-style="normal" >e</text>
<path d="M554.1 289.9 L559 295.6 L554.1 301.3 L549.2 295.6Z" fill="#000" fill-opacity="1" stroke="none"/>
<text x="563.67" y="299" font-size="13.3" fill="#000" font-family='"Liberation Serif", serif' font-weight="normal" font-style="normal" >(3)</text>
</svg>
</body></html>
